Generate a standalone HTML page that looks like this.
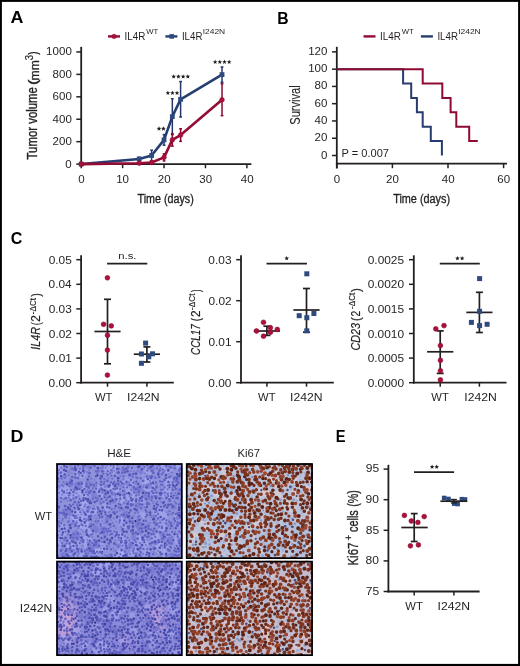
<!DOCTYPE html>
<html><head><meta charset="utf-8"><style>
html,body{margin:0;padding:0;background:#fff;}
svg{display:block;font-family:"Liberation Sans", sans-serif;filter:blur(0.35px);}
</style></head><body>
<svg width="520" height="666" viewBox="0 0 520 666" fill="#231f20">
<rect x="0" y="0" width="520" height="666" fill="#000"/>
<rect x="1.9" y="1.9" width="516.2" height="662.0" fill="#fff"/>
<text x="10.55" y="23.4" font-size="16.8" textLength="12.93" lengthAdjust="spacingAndGlyphs" font-weight="bold" fill="#000">A</text>
<text x="277.18" y="23.5" font-size="16.8" textLength="11.37" lengthAdjust="spacingAndGlyphs" font-weight="bold" fill="#000">B</text>
<text x="10.86" y="243.5" font-size="17.2" textLength="11.58" lengthAdjust="spacingAndGlyphs" font-weight="bold" fill="#000">C</text>
<text x="10.64" y="441.7" font-size="16.8" textLength="12.92" lengthAdjust="spacingAndGlyphs" font-weight="bold" fill="#000">D</text>
<text x="335.85" y="441.9" font-size="16.8" textLength="9.8" lengthAdjust="spacingAndGlyphs" font-weight="bold" fill="#000">E</text>
<line x1="108" y1="36.4" x2="120" y2="36.4" stroke="#940c34" stroke-width="2.4"/>
<circle cx="114.1" cy="36.4" r="2.2" fill="#ad0f3b" stroke="#8c0a30" stroke-width="0.6"/>
<text x="124.61" y="39.9" font-size="10.2" textLength="20.86" lengthAdjust="spacingAndGlyphs">IL4R</text>
<text x="146.16" y="34.2" font-size="7.0" textLength="11.99" lengthAdjust="spacingAndGlyphs">WT</text>
<line x1="165.4" y1="36.4" x2="177.4" y2="36.4" stroke="#273e72" stroke-width="2.4"/>
<rect x="169.4" y="34.1" width="4.6" height="4.6" fill="#2e4a7e"/>
<text x="181.93" y="39.9" font-size="10.2" textLength="20.54" lengthAdjust="spacingAndGlyphs">IL4R</text>
<text x="202.74" y="34.2" font-size="7.0" textLength="22.46" lengthAdjust="spacingAndGlyphs">I242N</text>
<line x1="363.5" y1="36.4" x2="375.5" y2="36.4" stroke="#940c34" stroke-width="2.4"/>
<text x="380.11" y="39.9" font-size="10.2" textLength="20.86" lengthAdjust="spacingAndGlyphs">IL4R</text>
<text x="401.66" y="34.2" font-size="7.0" textLength="11.99" lengthAdjust="spacingAndGlyphs">WT</text>
<line x1="420.9" y1="36.4" x2="432.9" y2="36.4" stroke="#273e72" stroke-width="2.4"/>
<text x="437.43" y="39.9" font-size="10.2" textLength="20.54" lengthAdjust="spacingAndGlyphs">IL4R</text>
<text x="458.24" y="34.2" font-size="7.0" textLength="22.46" lengthAdjust="spacingAndGlyphs">I242N</text>
<line x1="81.2" y1="46.8" x2="81.2" y2="165" stroke="#231f20" stroke-width="1.8"/>
<line x1="80.3" y1="164.1" x2="251.4" y2="164.1" stroke="#231f20" stroke-width="1.8"/>
<line x1="76.3" y1="164.1" x2="81.2" y2="164.1" stroke="#231f20" stroke-width="1.5"/>
<text x="65.39" y="167.6" font-size="10.5" textLength="6.42" lengthAdjust="spacingAndGlyphs">0</text>
<line x1="76.3" y1="141.67" x2="81.2" y2="141.67" stroke="#231f20" stroke-width="1.5"/>
<text x="52.57" y="145.17" font-size="10.5" textLength="19.27" lengthAdjust="spacingAndGlyphs">200</text>
<line x1="76.3" y1="119.24" x2="81.2" y2="119.24" stroke="#231f20" stroke-width="1.5"/>
<text x="52.57" y="122.74" font-size="10.5" textLength="19.27" lengthAdjust="spacingAndGlyphs">400</text>
<line x1="76.3" y1="96.81" x2="81.2" y2="96.81" stroke="#231f20" stroke-width="1.5"/>
<text x="52.57" y="100.31" font-size="10.5" textLength="19.27" lengthAdjust="spacingAndGlyphs">600</text>
<line x1="76.3" y1="74.38" x2="81.2" y2="74.38" stroke="#231f20" stroke-width="1.5"/>
<text x="52.57" y="77.88" font-size="10.5" textLength="19.27" lengthAdjust="spacingAndGlyphs">800</text>
<line x1="76.3" y1="51.95" x2="81.2" y2="51.95" stroke="#231f20" stroke-width="1.5"/>
<text x="46.11" y="55.45" font-size="10.5" textLength="25.7" lengthAdjust="spacingAndGlyphs">1000</text>
<line x1="81.2" y1="164.1" x2="81.2" y2="168.2" stroke="#231f20" stroke-width="1.5"/>
<text x="78.17" y="183" font-size="10.5" textLength="6.42" lengthAdjust="spacingAndGlyphs">0</text>
<line x1="122.62" y1="164.1" x2="122.62" y2="168.2" stroke="#231f20" stroke-width="1.5"/>
<text x="116.18" y="183" font-size="10.5" textLength="12.85" lengthAdjust="spacingAndGlyphs">10</text>
<line x1="164.04" y1="164.1" x2="164.04" y2="168.2" stroke="#231f20" stroke-width="1.5"/>
<text x="157.74" y="183" font-size="10.5" textLength="12.85" lengthAdjust="spacingAndGlyphs">20</text>
<line x1="205.46" y1="164.1" x2="205.46" y2="168.2" stroke="#231f20" stroke-width="1.5"/>
<text x="199.22" y="183" font-size="10.5" textLength="12.85" lengthAdjust="spacingAndGlyphs">30</text>
<line x1="246.88" y1="164.1" x2="246.88" y2="168.2" stroke="#231f20" stroke-width="1.5"/>
<text x="240.76" y="183" font-size="10.5" textLength="12.85" lengthAdjust="spacingAndGlyphs">40</text>
<text x="137.59" y="202.9" font-size="13.7" stroke="#231f20" stroke-width="0.35" textLength="56.17" lengthAdjust="spacingAndGlyphs">Time (days)</text>
<text transform="translate(37.4,159.2) rotate(-90)" x="-0.23" y="0" font-size="14" textLength="72.33" lengthAdjust="spacingAndGlyphs" stroke="#231f20" stroke-width="0.35">Tumor volume</text>
<text transform="translate(36.6,84) rotate(-90)" x="-1" y="0" font-size="12.5" textLength="5.53" lengthAdjust="spacingAndGlyphs" stroke="#231f20" stroke-width="0.3">(</text>
<text transform="translate(38.6,79.6) rotate(-90)" x="-0.79" y="0" font-size="12.5" textLength="20.12" lengthAdjust="spacingAndGlyphs" stroke="#231f20" stroke-width="0.3">mm</text>
<text transform="translate(32.6,59.9) rotate(-90)" x="-0.39" y="0" font-size="11.0" textLength="5.39" lengthAdjust="spacingAndGlyphs" stroke="#231f20" stroke-width="0.2">3</text>
<text transform="translate(36.6,54.6) rotate(-90)" x="-0.05" y="0" font-size="12.5" textLength="3.27" lengthAdjust="spacingAndGlyphs" stroke="#231f20" stroke-width="0.3">)</text>
<polyline points="81.2,164.1 139.19,158.94 151.61,155.46 164.04,139.88 172.32,116.66 180.61,99.28 222.03,74.6" fill="none" stroke="#273e72" stroke-width="2.6" stroke-linejoin="round"/>
<rect x="78.8" y="161.7" width="4.8" height="4.8" fill="#2e4a7e"/>
<line x1="139.19" y1="157.37" x2="139.19" y2="160.51" stroke="#233868" stroke-width="1.5"/>
<line x1="137.79" y1="157.37" x2="140.59" y2="157.37" stroke="#233868" stroke-width="1.5"/>
<line x1="137.79" y1="160.51" x2="140.59" y2="160.51" stroke="#233868" stroke-width="1.5"/>
<rect x="136.79" y="156.54" width="4.8" height="4.8" fill="#2e4a7e"/>
<line x1="151.61" y1="150.19" x2="151.61" y2="160.74" stroke="#233868" stroke-width="1.5"/>
<line x1="150.21" y1="150.19" x2="153.01" y2="150.19" stroke="#233868" stroke-width="1.5"/>
<line x1="150.21" y1="160.74" x2="153.01" y2="160.74" stroke="#233868" stroke-width="1.5"/>
<rect x="149.21" y="153.06" width="4.8" height="4.8" fill="#2e4a7e"/>
<line x1="164.04" y1="134.6" x2="164.04" y2="145.15" stroke="#233868" stroke-width="1.5"/>
<line x1="162.64" y1="134.6" x2="165.44" y2="134.6" stroke="#233868" stroke-width="1.5"/>
<line x1="162.64" y1="145.15" x2="165.44" y2="145.15" stroke="#233868" stroke-width="1.5"/>
<rect x="161.64" y="137.48" width="4.8" height="4.8" fill="#2e4a7e"/>
<line x1="172.32" y1="98.72" x2="172.32" y2="134.6" stroke="#233868" stroke-width="1.5"/>
<line x1="170.92" y1="98.72" x2="173.72" y2="98.72" stroke="#233868" stroke-width="1.5"/>
<line x1="170.92" y1="134.6" x2="173.72" y2="134.6" stroke="#233868" stroke-width="1.5"/>
<rect x="169.92" y="114.26" width="4.8" height="4.8" fill="#2e4a7e"/>
<line x1="180.61" y1="81.56" x2="180.61" y2="117" stroke="#233868" stroke-width="1.5"/>
<line x1="179.21" y1="81.56" x2="182.01" y2="81.56" stroke="#233868" stroke-width="1.5"/>
<line x1="179.21" y1="117" x2="182.01" y2="117" stroke="#233868" stroke-width="1.5"/>
<rect x="178.21" y="96.88" width="4.8" height="4.8" fill="#2e4a7e"/>
<line x1="222.03" y1="66.98" x2="222.03" y2="82.23" stroke="#233868" stroke-width="1.5"/>
<line x1="220.63" y1="66.98" x2="223.43" y2="66.98" stroke="#233868" stroke-width="1.5"/>
<line x1="220.63" y1="82.23" x2="223.43" y2="82.23" stroke="#233868" stroke-width="1.5"/>
<rect x="219.63" y="72.2" width="4.8" height="4.8" fill="#2e4a7e"/>
<polyline points="81.2,164.1 139.19,163.2 151.61,162.53 164.04,157.37 172.32,139.88 180.61,135.05 222.03,99.73" fill="none" stroke="#940c34" stroke-width="2.6" stroke-linejoin="round"/>
<circle cx="81.2" cy="164.1" r="2.3" fill="#ad0f3b" stroke="#8c0a30" stroke-width="0.6"/>
<line x1="139.19" y1="162.53" x2="139.19" y2="163.88" stroke="#880a30" stroke-width="1.5"/>
<line x1="137.79" y1="162.53" x2="140.59" y2="162.53" stroke="#880a30" stroke-width="1.5"/>
<line x1="137.79" y1="163.88" x2="140.59" y2="163.88" stroke="#880a30" stroke-width="1.5"/>
<circle cx="139.19" cy="163.2" r="2.3" fill="#ad0f3b" stroke="#8c0a30" stroke-width="0.6"/>
<line x1="151.61" y1="161.63" x2="151.61" y2="163.43" stroke="#880a30" stroke-width="1.5"/>
<line x1="150.21" y1="161.63" x2="153.01" y2="161.63" stroke="#880a30" stroke-width="1.5"/>
<line x1="150.21" y1="163.43" x2="153.01" y2="163.43" stroke="#880a30" stroke-width="1.5"/>
<circle cx="151.61" cy="162.53" r="2.3" fill="#ad0f3b" stroke="#8c0a30" stroke-width="0.6"/>
<line x1="164.04" y1="153.78" x2="164.04" y2="160.96" stroke="#880a30" stroke-width="1.5"/>
<line x1="162.64" y1="153.78" x2="165.44" y2="153.78" stroke="#880a30" stroke-width="1.5"/>
<line x1="162.64" y1="160.96" x2="165.44" y2="160.96" stroke="#880a30" stroke-width="1.5"/>
<circle cx="164.04" cy="157.37" r="2.3" fill="#ad0f3b" stroke="#8c0a30" stroke-width="0.6"/>
<line x1="172.32" y1="133.6" x2="172.32" y2="146.16" stroke="#880a30" stroke-width="1.5"/>
<line x1="170.92" y1="133.6" x2="173.72" y2="133.6" stroke="#880a30" stroke-width="1.5"/>
<line x1="170.92" y1="146.16" x2="173.72" y2="146.16" stroke="#880a30" stroke-width="1.5"/>
<circle cx="172.32" cy="139.88" r="2.3" fill="#ad0f3b" stroke="#8c0a30" stroke-width="0.6"/>
<line x1="180.61" y1="128.77" x2="180.61" y2="141.33" stroke="#880a30" stroke-width="1.5"/>
<line x1="179.21" y1="128.77" x2="182.01" y2="128.77" stroke="#880a30" stroke-width="1.5"/>
<line x1="179.21" y1="141.33" x2="182.01" y2="141.33" stroke="#880a30" stroke-width="1.5"/>
<circle cx="180.61" cy="135.05" r="2.3" fill="#ad0f3b" stroke="#8c0a30" stroke-width="0.6"/>
<line x1="222.03" y1="83.8" x2="222.03" y2="115.65" stroke="#880a30" stroke-width="1.5"/>
<line x1="220.63" y1="83.8" x2="223.43" y2="83.8" stroke="#880a30" stroke-width="1.5"/>
<line x1="220.63" y1="115.65" x2="223.43" y2="115.65" stroke="#880a30" stroke-width="1.5"/>
<circle cx="222.03" cy="99.73" r="2.3" fill="#ad0f3b" stroke="#8c0a30" stroke-width="0.6"/>
<polygon points="159,126.3 159.63,127.83 161.28,127.96 160.03,129.03 160.41,130.64 159,129.78 157.59,130.64 157.97,129.03 156.72,127.96 158.37,127.83" fill="#231f20"/>
<polygon points="163.4,126.3 164.03,127.83 165.68,127.96 164.43,129.03 164.81,130.64 163.4,129.78 161.99,130.64 162.37,129.03 161.12,127.96 162.77,127.83" fill="#231f20"/>
<polygon points="167.88,90.6 168.52,92.13 170.17,92.26 168.91,93.33 169.29,94.94 167.88,94.08 166.47,94.94 166.86,93.33 165.6,92.26 167.25,92.13" fill="#231f20"/>
<polygon points="172.45,90.6 173.08,92.13 174.73,92.26 173.48,93.33 173.86,94.94 172.45,94.08 171.04,94.94 171.42,93.33 170.17,92.26 171.82,92.13" fill="#231f20"/>
<polygon points="177.02,90.6 177.65,92.13 179.3,92.26 178.04,93.33 178.43,94.94 177.02,94.08 175.61,94.94 175.99,93.33 174.73,92.26 176.38,92.13" fill="#231f20"/>
<polygon points="173.66,74.2 174.3,75.73 175.95,75.86 174.69,76.93 175.07,78.54 173.66,77.68 172.25,78.54 172.64,76.93 171.38,75.86 173.03,75.73" fill="#231f20"/>
<polygon points="178.39,74.2 179.02,75.73 180.67,75.86 179.41,76.93 179.8,78.54 178.39,77.68 176.98,78.54 177.36,76.93 176.1,75.86 177.75,75.73" fill="#231f20"/>
<polygon points="183.11,74.2 183.75,75.73 185.4,75.86 184.14,76.93 184.52,78.54 183.11,77.68 181.7,78.54 182.09,76.93 180.83,75.86 182.48,75.73" fill="#231f20"/>
<polygon points="187.84,74.2 188.47,75.73 190.12,75.86 188.86,76.93 189.25,78.54 187.84,77.68 186.43,78.54 186.81,76.93 185.55,75.86 187.2,75.73" fill="#231f20"/>
<polygon points="215.14,59.6 215.77,61.13 217.42,61.26 216.16,62.33 216.55,63.94 215.14,63.08 213.73,63.94 214.11,62.33 212.85,61.26 214.5,61.13" fill="#231f20"/>
<polygon points="219.81,59.6 220.45,61.13 222.1,61.26 220.84,62.33 221.22,63.94 219.81,63.08 218.4,63.94 218.79,62.33 217.53,61.26 219.18,61.13" fill="#231f20"/>
<polygon points="224.49,59.6 225.12,61.13 226.77,61.26 225.51,62.33 225.9,63.94 224.49,63.08 223.08,63.94 223.46,62.33 222.2,61.26 223.85,61.13" fill="#231f20"/>
<polygon points="229.16,59.6 229.8,61.13 231.45,61.26 230.19,62.33 230.57,63.94 229.16,63.08 227.75,63.94 228.14,62.33 226.88,61.26 228.53,61.13" fill="#231f20"/>
<line x1="336.8" y1="46.8" x2="336.8" y2="168.4" stroke="#231f20" stroke-width="1.8"/>
<line x1="335.9" y1="163.6" x2="507" y2="163.6" stroke="#231f20" stroke-width="1.8"/>
<line x1="332" y1="155.5" x2="336.8" y2="155.5" stroke="#231f20" stroke-width="1.5"/>
<text x="320.99" y="158.5" font-size="10.5" textLength="6.42" lengthAdjust="spacingAndGlyphs">0</text>
<line x1="332" y1="138.23" x2="336.8" y2="138.23" stroke="#231f20" stroke-width="1.5"/>
<text x="314.58" y="141.23" font-size="10.5" textLength="12.85" lengthAdjust="spacingAndGlyphs">20</text>
<line x1="332" y1="120.96" x2="336.8" y2="120.96" stroke="#231f20" stroke-width="1.5"/>
<text x="314.58" y="123.96" font-size="10.5" textLength="12.85" lengthAdjust="spacingAndGlyphs">40</text>
<line x1="332" y1="103.69" x2="336.8" y2="103.69" stroke="#231f20" stroke-width="1.5"/>
<text x="314.58" y="106.69" font-size="10.5" textLength="12.85" lengthAdjust="spacingAndGlyphs">60</text>
<line x1="332" y1="86.42" x2="336.8" y2="86.42" stroke="#231f20" stroke-width="1.5"/>
<text x="314.58" y="89.42" font-size="10.5" textLength="12.85" lengthAdjust="spacingAndGlyphs">80</text>
<line x1="332" y1="69.15" x2="336.8" y2="69.15" stroke="#231f20" stroke-width="1.5"/>
<text x="308.17" y="72.15" font-size="10.5" textLength="19.27" lengthAdjust="spacingAndGlyphs">100</text>
<line x1="332" y1="51.88" x2="336.8" y2="51.88" stroke="#231f20" stroke-width="1.5"/>
<text x="308.17" y="54.88" font-size="10.5" textLength="19.27" lengthAdjust="spacingAndGlyphs">120</text>
<line x1="336.8" y1="163.6" x2="336.8" y2="168.2" stroke="#231f20" stroke-width="1.5"/>
<text x="333.77" y="183.4" font-size="10.5" textLength="6.42" lengthAdjust="spacingAndGlyphs">0</text>
<line x1="392.4" y1="163.6" x2="392.4" y2="168.2" stroke="#231f20" stroke-width="1.5"/>
<text x="386.1" y="183.4" font-size="10.5" textLength="12.85" lengthAdjust="spacingAndGlyphs">20</text>
<line x1="448" y1="163.6" x2="448" y2="168.2" stroke="#231f20" stroke-width="1.5"/>
<text x="441.88" y="183.4" font-size="10.5" textLength="12.85" lengthAdjust="spacingAndGlyphs">40</text>
<line x1="503.6" y1="163.6" x2="503.6" y2="168.2" stroke="#231f20" stroke-width="1.5"/>
<text x="497.3" y="183.4" font-size="10.5" textLength="12.85" lengthAdjust="spacingAndGlyphs">60</text>
<text x="393.18" y="203.2" font-size="13.7" stroke="#231f20" stroke-width="0.35" textLength="56.88" lengthAdjust="spacingAndGlyphs">Time (days)</text>
<text transform="translate(299.6,105.0) rotate(-90)" font-size="14" stroke="#231f20" stroke-width="0.12" text-anchor="middle" textLength="39.5" lengthAdjust="spacingAndGlyphs">Survival</text>
<text x="341.52" y="156.9" font-size="10.3" textLength="47.45" lengthAdjust="spacingAndGlyphs">P = 0.007</text>
<path d="M336.8,69.15 H403.1 V83.54 H411.2 V97.93 H416.9 V112.33 H422.7 V126.72 H430.8 V141.11 H441.9 V155.5" fill="none" stroke="#263c6e" stroke-width="2.0"/>
<path d="M336.8,69.15 H422.7 V83.54 H442.3 V97.93 H450.6 V112.33 H456.3 V126.72 H469.2 V141.11 H477.8" fill="none" stroke="#8e0a30" stroke-width="2.0"/>
<line x1="81.1" y1="255.3" x2="81.1" y2="383.6" stroke="#231f20" stroke-width="1.8"/>
<line x1="80.2" y1="382.7" x2="173.8" y2="382.7" stroke="#231f20" stroke-width="1.8"/>
<line x1="76.3" y1="382.7" x2="81.1" y2="382.7" stroke="#231f20" stroke-width="1.5"/>
<text x="48.62" y="386.7" font-size="10.6" textLength="23.11" lengthAdjust="spacingAndGlyphs">0.00</text>
<line x1="76.3" y1="358.1" x2="81.1" y2="358.1" stroke="#231f20" stroke-width="1.5"/>
<text x="48.74" y="362.1" font-size="10.6" textLength="23.11" lengthAdjust="spacingAndGlyphs">0.01</text>
<line x1="76.3" y1="333.5" x2="81.1" y2="333.5" stroke="#231f20" stroke-width="1.5"/>
<text x="48.8" y="337.5" font-size="10.6" textLength="23.11" lengthAdjust="spacingAndGlyphs">0.02</text>
<line x1="76.3" y1="308.9" x2="81.1" y2="308.9" stroke="#231f20" stroke-width="1.5"/>
<text x="48.68" y="312.9" font-size="10.6" textLength="23.11" lengthAdjust="spacingAndGlyphs">0.03</text>
<line x1="76.3" y1="284.3" x2="81.1" y2="284.3" stroke="#231f20" stroke-width="1.5"/>
<text x="48.57" y="288.3" font-size="10.6" textLength="23.11" lengthAdjust="spacingAndGlyphs">0.04</text>
<line x1="76.3" y1="259.7" x2="81.1" y2="259.7" stroke="#231f20" stroke-width="1.5"/>
<text x="48.68" y="263.7" font-size="10.6" textLength="23.11" lengthAdjust="spacingAndGlyphs">0.05</text>
<line x1="107.5" y1="382.7" x2="107.5" y2="386.7" stroke="#231f20" stroke-width="1.5"/>
<line x1="146.9" y1="382.7" x2="146.9" y2="386.7" stroke="#231f20" stroke-width="1.5"/>
<text x="94.94" y="400.8" font-size="10.5" textLength="17.48" lengthAdjust="spacingAndGlyphs">WT</text>
<text x="127.1" y="400.8" font-size="10.5" textLength="32.51" lengthAdjust="spacingAndGlyphs">I242N</text>
<line x1="107.1" y1="263.6" x2="147.3" y2="263.6" stroke="#231f20" stroke-width="1.7"/>
<text x="118.27" y="258.6" font-size="9.6" textLength="18.17" lengthAdjust="spacingAndGlyphs">n.s.</text>
<text transform="translate(40.2,349.3) rotate(-90)" x="-0.43" y="0" font-size="12.8" textLength="22.78" lengthAdjust="spacingAndGlyphs" stroke="#231f20" stroke-width="0.2" font-style="italic">IL4R</text>
<text transform="translate(40.2,324.7) rotate(-90)" x="-0.54" y="0" font-size="12.8" textLength="3.02" lengthAdjust="spacingAndGlyphs" stroke="#231f20" stroke-width="0.2">(</text>
<text transform="translate(40.2,321.1) rotate(-90)" x="-0.59" y="0" font-size="12.8" textLength="6.6" lengthAdjust="spacingAndGlyphs" stroke="#231f20" stroke-width="0.2">2</text>
<text transform="translate(35.9,313.8) rotate(-90)" x="-0.36" y="0" font-size="8.6" textLength="16.11" lengthAdjust="spacingAndGlyphs" stroke="#231f20" stroke-width="0.15">-ΔCt</text>
<text transform="translate(40.2,296.8) rotate(-90)" x="-0.05" y="0" font-size="12.8" textLength="3.52" lengthAdjust="spacingAndGlyphs" stroke="#231f20" stroke-width="0.2">)</text>
<line x1="107.5" y1="299.3" x2="107.5" y2="363.8" stroke="#231f20" stroke-width="1.7"/>
<line x1="104" y1="299.3" x2="111" y2="299.3" stroke="#231f20" stroke-width="1.7"/>
<line x1="104" y1="363.8" x2="111" y2="363.8" stroke="#231f20" stroke-width="1.7"/>
<line x1="94.4" y1="331.5" x2="120.6" y2="331.5" stroke="#231f20" stroke-width="1.7"/>
<circle cx="107.4" cy="277.8" r="2.4" fill="#ad0f3b" stroke="#8c0a30" stroke-width="0.6"/>
<circle cx="103.6" cy="324.3" r="2.4" fill="#ad0f3b" stroke="#8c0a30" stroke-width="0.6"/>
<circle cx="111.3" cy="325.9" r="2.4" fill="#ad0f3b" stroke="#8c0a30" stroke-width="0.6"/>
<circle cx="107.5" cy="335.3" r="2.4" fill="#ad0f3b" stroke="#8c0a30" stroke-width="0.6"/>
<circle cx="107.4" cy="350.1" r="2.4" fill="#ad0f3b" stroke="#8c0a30" stroke-width="0.6"/>
<circle cx="107.4" cy="375.1" r="2.4" fill="#ad0f3b" stroke="#8c0a30" stroke-width="0.6"/>
<line x1="146.9" y1="346.9" x2="146.9" y2="362" stroke="#231f20" stroke-width="1.7"/>
<line x1="143.4" y1="346.9" x2="150.4" y2="346.9" stroke="#231f20" stroke-width="1.7"/>
<line x1="143.4" y1="362" x2="150.4" y2="362" stroke="#231f20" stroke-width="1.7"/>
<line x1="133.8" y1="354.2" x2="160" y2="354.2" stroke="#231f20" stroke-width="1.7"/>
<rect x="143.1" y="340.6" width="5" height="5" fill="#2e4a7e"/>
<rect x="138.9" y="351.5" width="5" height="5" fill="#2e4a7e"/>
<rect x="150" y="351.3" width="5" height="5" fill="#2e4a7e"/>
<rect x="146.3" y="354.3" width="5" height="5" fill="#2e4a7e"/>
<rect x="138.9" y="360.8" width="5" height="5" fill="#2e4a7e"/>
<line x1="241" y1="255.3" x2="241" y2="383.6" stroke="#231f20" stroke-width="1.8"/>
<line x1="240.1" y1="382.7" x2="333.8" y2="382.7" stroke="#231f20" stroke-width="1.8"/>
<line x1="236.2" y1="382.7" x2="241" y2="382.7" stroke="#231f20" stroke-width="1.5"/>
<text x="208.32" y="386.7" font-size="10.6" textLength="23.11" lengthAdjust="spacingAndGlyphs">0.00</text>
<line x1="236.2" y1="341.7" x2="241" y2="341.7" stroke="#231f20" stroke-width="1.5"/>
<text x="208.44" y="345.7" font-size="10.6" textLength="23.11" lengthAdjust="spacingAndGlyphs">0.01</text>
<line x1="236.2" y1="300.7" x2="241" y2="300.7" stroke="#231f20" stroke-width="1.5"/>
<text x="208.5" y="304.7" font-size="10.6" textLength="23.11" lengthAdjust="spacingAndGlyphs">0.02</text>
<line x1="236.2" y1="259.7" x2="241" y2="259.7" stroke="#231f20" stroke-width="1.5"/>
<text x="208.38" y="263.7" font-size="10.6" textLength="23.11" lengthAdjust="spacingAndGlyphs">0.03</text>
<line x1="266.9" y1="382.7" x2="266.9" y2="386.7" stroke="#231f20" stroke-width="1.5"/>
<line x1="306.5" y1="382.7" x2="306.5" y2="386.7" stroke="#231f20" stroke-width="1.5"/>
<text x="258.04" y="400.8" font-size="10.5" textLength="17.48" lengthAdjust="spacingAndGlyphs">WT</text>
<text x="290" y="400.8" font-size="10.5" textLength="32.51" lengthAdjust="spacingAndGlyphs">I242N</text>
<line x1="266.5" y1="263.6" x2="306.9" y2="263.6" stroke="#231f20" stroke-width="1.7"/>
<polygon points="286.7,255.9 287.33,257.43 288.98,257.56 287.73,258.63 288.11,260.24 286.7,259.38 285.29,260.24 285.67,258.63 284.42,257.56 286.07,257.43" fill="#231f20"/>
<text transform="translate(200.2,354.4) rotate(-90)" x="-0.54" y="0" font-size="12.8" textLength="30.78" lengthAdjust="spacingAndGlyphs" stroke="#231f20" stroke-width="0.2" font-style="italic">CCL17</text>
<text transform="translate(200.2,320.6) rotate(-90)" x="-0.59" y="0" font-size="12.8" textLength="3.27" lengthAdjust="spacingAndGlyphs" stroke="#231f20" stroke-width="0.2">(</text>
<text transform="translate(200.2,316.3) rotate(-90)" x="-0.59" y="0" font-size="12.8" textLength="6.6" lengthAdjust="spacingAndGlyphs" stroke="#231f20" stroke-width="0.2">2</text>
<text transform="translate(195.4,309.6) rotate(-90)" x="-0.37" y="0" font-size="8.6" textLength="16.42" lengthAdjust="spacingAndGlyphs" stroke="#231f20" stroke-width="0.15">-ΔCt</text>
<text transform="translate(200.2,291.9) rotate(-90)" x="-0.04" y="0" font-size="12.8" textLength="2.39" lengthAdjust="spacingAndGlyphs" stroke="#231f20" stroke-width="0.2">)</text>
<line x1="266.9" y1="326.2" x2="266.9" y2="335.4" stroke="#231f20" stroke-width="1.7"/>
<line x1="263.4" y1="326.2" x2="270.4" y2="326.2" stroke="#231f20" stroke-width="1.7"/>
<line x1="263.4" y1="335.4" x2="270.4" y2="335.4" stroke="#231f20" stroke-width="1.7"/>
<line x1="253.8" y1="331" x2="280" y2="331" stroke="#231f20" stroke-width="1.7"/>
<circle cx="263.5" cy="322.3" r="2.4" fill="#ad0f3b" stroke="#8c0a30" stroke-width="0.6"/>
<circle cx="256.5" cy="331" r="2.4" fill="#ad0f3b" stroke="#8c0a30" stroke-width="0.6"/>
<circle cx="263.5" cy="336.2" r="2.4" fill="#ad0f3b" stroke="#8c0a30" stroke-width="0.6"/>
<circle cx="270.4" cy="327.7" r="2.4" fill="#ad0f3b" stroke="#8c0a30" stroke-width="0.6"/>
<circle cx="277.3" cy="329.5" r="2.4" fill="#ad0f3b" stroke="#8c0a30" stroke-width="0.6"/>
<circle cx="270.4" cy="332.3" r="2.4" fill="#ad0f3b" stroke="#8c0a30" stroke-width="0.6"/>
<line x1="306.5" y1="288.5" x2="306.5" y2="332.2" stroke="#231f20" stroke-width="1.7"/>
<line x1="303" y1="288.5" x2="310" y2="288.5" stroke="#231f20" stroke-width="1.7"/>
<line x1="303" y1="332.2" x2="310" y2="332.2" stroke="#231f20" stroke-width="1.7"/>
<line x1="293.4" y1="310" x2="319.6" y2="310" stroke="#231f20" stroke-width="1.7"/>
<rect x="304.3" y="271.3" width="5" height="5" fill="#2e4a7e"/>
<rect x="296.7" y="313.2" width="5" height="5" fill="#2e4a7e"/>
<rect x="311.4" y="311" width="5" height="5" fill="#2e4a7e"/>
<rect x="304.3" y="315.2" width="5" height="5" fill="#2e4a7e"/>
<rect x="304.3" y="328.3" width="5" height="5" fill="#2e4a7e"/>
<line x1="413.8" y1="255.3" x2="413.8" y2="383.6" stroke="#231f20" stroke-width="1.8"/>
<line x1="412.9" y1="382.7" x2="506.5" y2="382.7" stroke="#231f20" stroke-width="1.8"/>
<line x1="409" y1="382.7" x2="413.8" y2="382.7" stroke="#231f20" stroke-width="1.5"/>
<text x="367.69" y="386.7" font-size="10.6" textLength="36.31" lengthAdjust="spacingAndGlyphs">0.0000</text>
<line x1="409" y1="358.1" x2="413.8" y2="358.1" stroke="#231f20" stroke-width="1.5"/>
<text x="367.75" y="362.1" font-size="10.6" textLength="36.31" lengthAdjust="spacingAndGlyphs">0.0005</text>
<line x1="409" y1="333.5" x2="413.8" y2="333.5" stroke="#231f20" stroke-width="1.5"/>
<text x="367.69" y="337.5" font-size="10.6" textLength="36.31" lengthAdjust="spacingAndGlyphs">0.0010</text>
<line x1="409" y1="308.9" x2="413.8" y2="308.9" stroke="#231f20" stroke-width="1.5"/>
<text x="367.75" y="312.9" font-size="10.6" textLength="36.31" lengthAdjust="spacingAndGlyphs">0.0015</text>
<line x1="409" y1="284.3" x2="413.8" y2="284.3" stroke="#231f20" stroke-width="1.5"/>
<text x="367.69" y="288.3" font-size="10.6" textLength="36.31" lengthAdjust="spacingAndGlyphs">0.0020</text>
<line x1="409" y1="259.7" x2="413.8" y2="259.7" stroke="#231f20" stroke-width="1.5"/>
<text x="367.75" y="263.7" font-size="10.6" textLength="36.31" lengthAdjust="spacingAndGlyphs">0.0025</text>
<line x1="440.2" y1="382.7" x2="440.2" y2="386.7" stroke="#231f20" stroke-width="1.5"/>
<line x1="479.4" y1="382.7" x2="479.4" y2="386.7" stroke="#231f20" stroke-width="1.5"/>
<text x="431.34" y="400.8" font-size="10.5" textLength="17.48" lengthAdjust="spacingAndGlyphs">WT</text>
<text x="464.3" y="400.8" font-size="10.5" textLength="32.51" lengthAdjust="spacingAndGlyphs">I242N</text>
<line x1="439.8" y1="263.6" x2="479.8" y2="263.6" stroke="#231f20" stroke-width="1.7"/>
<polygon points="457.45,255.9 458.08,257.43 459.73,257.56 458.48,258.63 458.86,260.24 457.45,259.38 456.04,260.24 456.42,258.63 455.17,257.56 456.82,257.43" fill="#231f20"/>
<polygon points="462.15,255.9 462.78,257.43 464.43,257.56 463.18,258.63 463.56,260.24 462.15,259.38 460.74,260.24 461.12,258.63 459.87,257.56 461.52,257.43" fill="#231f20"/>
<text transform="translate(360,350) rotate(-90)" x="-0.6" y="0" font-size="12.8" textLength="27.67" lengthAdjust="spacingAndGlyphs" stroke="#231f20" stroke-width="0.2" font-style="italic">CD23</text>
<text transform="translate(360,320.4) rotate(-90)" x="-0.66" y="0" font-size="12.8" textLength="3.64" lengthAdjust="spacingAndGlyphs" stroke="#231f20" stroke-width="0.2">(</text>
<text transform="translate(360,316.1) rotate(-90)" x="-0.52" y="0" font-size="12.8" textLength="5.75" lengthAdjust="spacingAndGlyphs" stroke="#231f20" stroke-width="0.2">2</text>
<text transform="translate(355,308.6) rotate(-90)" x="-0.36" y="0" font-size="8.6" textLength="16.21" lengthAdjust="spacingAndGlyphs" stroke="#231f20" stroke-width="0.15">-ΔCt</text>
<text transform="translate(360,291.9) rotate(-90)" x="-0.06" y="0" font-size="12.8" textLength="4.02" lengthAdjust="spacingAndGlyphs" stroke="#231f20" stroke-width="0.2">)</text>
<line x1="440.2" y1="330.9" x2="440.2" y2="373.4" stroke="#231f20" stroke-width="1.7"/>
<line x1="436.7" y1="330.9" x2="443.7" y2="330.9" stroke="#231f20" stroke-width="1.7"/>
<line x1="436.7" y1="373.4" x2="443.7" y2="373.4" stroke="#231f20" stroke-width="1.7"/>
<line x1="427.1" y1="351.8" x2="453.3" y2="351.8" stroke="#231f20" stroke-width="1.7"/>
<circle cx="435.8" cy="328.9" r="2.4" fill="#ad0f3b" stroke="#8c0a30" stroke-width="0.6"/>
<circle cx="444" cy="325.6" r="2.4" fill="#ad0f3b" stroke="#8c0a30" stroke-width="0.6"/>
<circle cx="440.4" cy="345.6" r="2.4" fill="#ad0f3b" stroke="#8c0a30" stroke-width="0.6"/>
<circle cx="440.4" cy="360.3" r="2.4" fill="#ad0f3b" stroke="#8c0a30" stroke-width="0.6"/>
<circle cx="440.4" cy="370.8" r="2.4" fill="#ad0f3b" stroke="#8c0a30" stroke-width="0.6"/>
<circle cx="440.4" cy="379.9" r="2.4" fill="#ad0f3b" stroke="#8c0a30" stroke-width="0.6"/>
<line x1="479.4" y1="292.3" x2="479.4" y2="332.5" stroke="#231f20" stroke-width="1.7"/>
<line x1="475.9" y1="292.3" x2="482.9" y2="292.3" stroke="#231f20" stroke-width="1.7"/>
<line x1="475.9" y1="332.5" x2="482.9" y2="332.5" stroke="#231f20" stroke-width="1.7"/>
<line x1="466.3" y1="312.4" x2="492.5" y2="312.4" stroke="#231f20" stroke-width="1.7"/>
<rect x="477.1" y="276.1" width="5" height="5" fill="#2e4a7e"/>
<rect x="468.9" y="319.9" width="5" height="5" fill="#2e4a7e"/>
<rect x="484.6" y="321.8" width="5" height="5" fill="#2e4a7e"/>
<rect x="477.1" y="323.1" width="5" height="5" fill="#2e4a7e"/>
<rect x="477.1" y="308.8" width="5" height="5" fill="#2e4a7e"/>
<line x1="388.4" y1="464.8" x2="388.4" y2="592.4" stroke="#231f20" stroke-width="1.8"/>
<line x1="387.5" y1="591.5" x2="479.6" y2="591.5" stroke="#231f20" stroke-width="1.8"/>
<line x1="383.6" y1="591.5" x2="388.4" y2="591.5" stroke="#231f20" stroke-width="1.5"/>
<text x="365.68" y="594.8" font-size="10.5" textLength="13.43" lengthAdjust="spacingAndGlyphs">75</text>
<line x1="383.6" y1="560.9" x2="388.4" y2="560.9" stroke="#231f20" stroke-width="1.5"/>
<text x="365.62" y="564.2" font-size="10.5" textLength="13.43" lengthAdjust="spacingAndGlyphs">80</text>
<line x1="383.6" y1="530.3" x2="388.4" y2="530.3" stroke="#231f20" stroke-width="1.5"/>
<text x="365.68" y="533.6" font-size="10.5" textLength="13.43" lengthAdjust="spacingAndGlyphs">85</text>
<line x1="383.6" y1="499.7" x2="388.4" y2="499.7" stroke="#231f20" stroke-width="1.5"/>
<text x="365.62" y="503" font-size="10.5" textLength="13.43" lengthAdjust="spacingAndGlyphs">90</text>
<line x1="383.6" y1="469.1" x2="388.4" y2="469.1" stroke="#231f20" stroke-width="1.5"/>
<text x="365.68" y="472.4" font-size="10.5" textLength="13.43" lengthAdjust="spacingAndGlyphs">95</text>
<line x1="414.2" y1="591.5" x2="414.2" y2="595.5" stroke="#231f20" stroke-width="1.5"/>
<line x1="453.9" y1="591.5" x2="453.9" y2="595.5" stroke="#231f20" stroke-width="1.5"/>
<text x="405.34" y="610.1" font-size="10.5" textLength="17.48" lengthAdjust="spacingAndGlyphs">WT</text>
<text x="437.6" y="610.1" font-size="10.5" textLength="32.51" lengthAdjust="spacingAndGlyphs">I242N</text>
<line x1="414" y1="472.2" x2="454.1" y2="472.2" stroke="#231f20" stroke-width="1.7"/>
<polygon points="432.1,464.5 432.73,466.03 434.38,466.16 433.13,467.23 433.51,468.84 432.1,467.98 430.69,468.84 431.07,467.23 429.82,466.16 431.47,466.03" fill="#231f20"/>
<polygon points="436.7,464.5 437.33,466.03 438.98,466.16 437.73,467.23 438.11,468.84 436.7,467.98 435.29,468.84 435.67,467.23 434.42,466.16 436.07,466.03" fill="#231f20"/>
<text transform="translate(357.5,564.6) rotate(-90)" x="-0.92" y="0" font-size="13.8" textLength="22.91" lengthAdjust="spacingAndGlyphs" stroke="#231f20" stroke-width="0.3">Ki67</text>
<text transform="translate(352.2,540.2) rotate(-90)" x="-0.52" y="0" font-size="10.0" textLength="6.02" lengthAdjust="spacingAndGlyphs" stroke="#231f20" stroke-width="0.2">+</text>
<text transform="translate(357.5,531.6) rotate(-90)" x="-0.44" y="0" font-size="13.8" textLength="21.82" lengthAdjust="spacingAndGlyphs" stroke="#231f20" stroke-width="0.3">cells</text>
<text transform="translate(357.5,506.2) rotate(-90)" x="-0.64" y="0" font-size="13.8" textLength="16.53" lengthAdjust="spacingAndGlyphs" stroke="#231f20" stroke-width="0.3">(%)</text>
<line x1="414.2" y1="513.6" x2="414.2" y2="541.5" stroke="#231f20" stroke-width="1.7"/>
<line x1="410.8" y1="513.6" x2="417.6" y2="513.6" stroke="#231f20" stroke-width="1.7"/>
<line x1="410.8" y1="541.5" x2="417.6" y2="541.5" stroke="#231f20" stroke-width="1.7"/>
<line x1="401.3" y1="527.5" x2="427.7" y2="527.5" stroke="#231f20" stroke-width="1.7"/>
<circle cx="404.4" cy="515.4" r="2.4" fill="#ad0f3b" stroke="#8c0a30" stroke-width="0.6"/>
<circle cx="424.2" cy="516.6" r="2.4" fill="#ad0f3b" stroke="#8c0a30" stroke-width="0.6"/>
<circle cx="411.3" cy="521" r="2.4" fill="#ad0f3b" stroke="#8c0a30" stroke-width="0.6"/>
<circle cx="417.9" cy="522.4" r="2.4" fill="#ad0f3b" stroke="#8c0a30" stroke-width="0.6"/>
<circle cx="410.4" cy="545.8" r="2.4" fill="#ad0f3b" stroke="#8c0a30" stroke-width="0.6"/>
<circle cx="418.4" cy="544.9" r="2.4" fill="#ad0f3b" stroke="#8c0a30" stroke-width="0.6"/>
<rect x="441.9" y="495.7" width="4.6" height="4.6" fill="#2e4a7e"/>
<rect x="446.2" y="496.7" width="4.6" height="4.6" fill="#2e4a7e"/>
<rect x="459.6" y="496.9" width="4.6" height="4.6" fill="#2e4a7e"/>
<rect x="462.7" y="497.2" width="4.6" height="4.6" fill="#2e4a7e"/>
<rect x="451.9" y="501.3" width="4.6" height="4.6" fill="#2e4a7e"/>
<rect x="455.3" y="501.7" width="4.6" height="4.6" fill="#2e4a7e"/>
<line x1="440.4" y1="501.2" x2="467.2" y2="501.2" stroke="#231f20" stroke-width="1.7"/>
<line x1="453.9" y1="499.5" x2="453.9" y2="503" stroke="#231f20" stroke-width="1.4"/>
<line x1="450.9" y1="499.5" x2="456.9" y2="499.5" stroke="#231f20" stroke-width="1.3"/>
<line x1="450.9" y1="503" x2="456.9" y2="503" stroke="#231f20" stroke-width="1.3"/>
<text x="107.17" y="456.8" font-size="10.4" textLength="24.02" lengthAdjust="spacingAndGlyphs">H&amp;E</text>
<text x="237.4" y="456.8" font-size="10.4" textLength="22.58" lengthAdjust="spacingAndGlyphs">Ki67</text>
<text x="34.74" y="520.3" font-size="10.4" textLength="17.27" lengthAdjust="spacingAndGlyphs">WT</text>
<text x="19.8" y="612.1" font-size="10.4" textLength="32.51" lengthAdjust="spacingAndGlyphs">I242N</text>
<filter id="soft" x="0" y="0" width="1" height="1"><feGaussianBlur stdDeviation="0.45"/></filter>
<filter id="big" x="-50%" y="-50%" width="200%" height="200%"><feGaussianBlur stdDeviation="4"/></filter>
<clipPath id="che1"><rect x="56.2" y="463.2" width="126.4" height="95.8"/></clipPath>
<g clip-path="url(#che1)"><g filter="url(#soft)">
<rect x="54.2" y="461.2" width="130.4" height="99.8" fill="#9092dc"/>
<path stroke="#acaef2" stroke-opacity="0.5" stroke-width="7" stroke-linecap="round" d="M138.6 538.8h0M170.1 466.1h0M83.6 503.6h0M85.7 485.3h0M114.3 491h0M120.1 519.6h0M105.9 510.1h0M131.2 500.9h0M124.4 545.6h0M114.1 465.9h0M66.7 464.8h0M151.7 487.1h0M135.2 496.2h0M76.4 513.7h0M96.9 508.6h0M105.1 503.5h0M58.8 464.9h0M141.9 515.4h0M108.8 487.4h0M177.8 517.8h0M166.4 549.4h0M155.1 495.7h0M117.4 557.6h0M147.9 471.3h0M73.3 516h0"/>
<path stroke="#acaef2" stroke-opacity="0.5" stroke-width="9" stroke-linecap="round" d="M88.4 510.7h0M59.8 543.3h0M152.6 463.4h0M124.6 553.2h0M84.2 505.1h0M146.1 552.9h0M161.1 527.4h0M86.9 539.6h0M141.5 499.1h0M117.5 497.4h0M90.7 531.4h0M84.4 525.3h0M120.5 499.4h0M82.2 527.8h0M93.6 511.1h0M132.1 543.8h0"/>
<path stroke="#acaef2" stroke-opacity="0.5" stroke-width="11" stroke-linecap="round" d="M162.1 516.5h0M71.5 495.1h0M78.1 515.8h0M120.5 537.8h0M121.1 554.4h0M114.2 489h0M159.9 548.1h0M158.5 512.9h0M128.2 482.3h0M124.3 522.9h0M88.5 543.8h0M69.9 549.4h0M147.1 478.5h0M179.5 539.6h0M129 494h0M165.9 556.5h0M80.7 473.2h0M99.7 547.7h0"/>
<path stroke="#acaef2" stroke-opacity="0.5" stroke-width="12.9" stroke-linecap="round" d="M73.2 544.4h0M147.4 485.1h0M79.7 558.3h0M130.5 547.7h0M61.7 530.6h0M119.7 557.3h0M177.2 463.7h0M110.1 468.6h0M78.6 519.2h0M157.1 539.6h0M82.6 521.2h0M63.6 491.8h0M166.9 492.6h0M95.4 553.2h0M167.3 466.8h0M81.6 494.6h0M141.5 543.5h0M171.3 483.6h0M99.2 491.1h0M132.5 554.6h0M61.1 470.2h0"/>
<path stroke="#7072d0" stroke-opacity="0.6" stroke-width="4.5" stroke-linecap="round" d="M128.3 484.6h0M155.7 542.5h0M140.9 472h0M168.1 467h0M181.1 503.5h0M88.2 508.9h0M138.6 467h0M113.1 493.2h0M95 486.8h0M129.4 520.3h0M58.8 486.6h0M125.9 470h0M118.5 545.8h0M119.6 539.4h0M93.3 548.8h0M78.7 504.6h0M108.9 517.9h0M101.1 476.4h0M106.9 521.9h0M91 525.1h0M177.6 517.9h0M77 533.1h0"/>
<path stroke="#7072d0" stroke-opacity="0.6" stroke-width="5.5" stroke-linecap="round" d="M155.8 542.6h0M134 538.1h0M173.1 507.1h0M69.2 550.5h0M178.8 550.3h0M91.7 557.4h0M105.6 492.6h0M180.7 541.9h0M171.3 466.2h0M146.6 527.2h0M113.5 501.1h0M89 542.6h0M116.7 484.8h0M139.6 530.3h0M173 556.2h0"/>
<path stroke="#7072d0" stroke-opacity="0.6" stroke-width="6.4" stroke-linecap="round" d="M89.9 548.5h0M180.4 491.5h0M70.3 483.8h0M180.1 515.2h0M139.9 488h0M94.5 495.2h0M162.5 534.7h0M88.8 465.5h0M57.1 513.8h0M138.2 505.2h0M148.7 486h0M87.9 484h0M152 468.2h0M146.8 496.5h0M180.2 540.6h0"/>
<path stroke="#7072d0" stroke-opacity="0.6" stroke-width="7.4" stroke-linecap="round" d="M77.4 486.3h0M171.7 556.1h0M138.6 524.8h0M96.2 544.4h0M136.5 491.1h0M176.2 479.8h0M69.7 512.5h0M170.4 540.2h0M64.3 555.5h0M125.6 515.1h0M127 550.1h0M65.2 512.2h0M76.4 536.6h0M95.6 529.5h0M103.2 530.4h0M131.4 545.2h0M90 550.7h0M73.8 537.5h0"/>
<path stroke="#2a2a7e" stroke-opacity="1" stroke-width="1.7" stroke-linecap="round" d="M157.7 504.7h0M87.6 535h0M80.2 505.2h0M104.6 490.4h0M101.3 513.8h0"/>
<path stroke="#2a2a7e" stroke-opacity="1" stroke-width="1.9" stroke-linecap="round" d="M107.8 474.5h0M90.7 519.3h0"/>
<path stroke="#2a2a7e" stroke-opacity="1" stroke-width="2.1" stroke-linecap="round" d="M177.5 474.6h0M82.3 490.5h0M179.3 515.4h0M164.4 536.9h0M179.3 476.3h0M128.6 493h0"/>
<path stroke="#2a2a7e" stroke-opacity="1" stroke-width="2.2" stroke-linecap="round" d="M97.3 475.3h0M135.5 521.2h0M142.6 539h0M158.3 474.5h0M125.1 555.6h0"/>
<path stroke="#7a7cd2" stroke-width="1.8" stroke-linecap="round" d="M58.8 462.2h0M175.8 461.2h0M130.2 464.9h0M65.4 467.5h0M69.6 470.7h0M114.3 471h0M150.7 471.5h0M71.8 473.1h0M147.8 474.5h0M168.3 474.1h0M143.9 476.9h0M128.4 478.1h0M86.4 481.6h0M92.2 482.5h0M136 483.9h0M96 487.1h0M160.3 487.2h0M178 488.4h0M64.3 491.1h0M106.5 490.1h0M70.2 494.7h0M175.9 507.7h0M118.2 510.6h0M150 510.1h0M78.3 514.8h0M86.3 518.9h0M94.1 518.1h0M177.2 517.7h0M76.7 521.2h0M102.4 520.8h0M111.1 520.2h0M155.7 520.5h0M160 520.3h0M171.5 521.6h0M177.7 521.4h0M104.2 523.1h0M129.1 523.6h0M148.1 523.5h0M73.7 526.9h0M95.5 525.8h0M57.4 528.2h0M94.4 528.2h0M157.9 528.2h0M181.1 528.6h0M160.6 533.8h0M107.3 538.1h0M133.6 536.5h0M60.5 540.7h0M118.6 539.3h0M161 539.3h0M102.7 545.6h0M151.2 545.3h0M100.9 548.4h0M121.6 549.2h0M163 548.1h0M98.6 553.5h0M155.7 554h0M169.4 553.8h0"/>
<path stroke="#7a7cd2" stroke-width="2.1" stroke-linecap="round" d="M90.5 461.4h0M109.9 462.7h0M87.8 464.4h0M98.4 464.2h0M77 468.5h0M89 470.4h0M118.5 469.8h0M130.7 470.9h0M133.8 471.5h0M171.1 472.8h0M79.3 475.4h0M106.5 479.7h0M108.8 478h0M156.7 478.3h0M76.4 482.6h0M89.8 481.8h0M107.1 485.2h0M140.6 485.1h0M156.5 484.3h0M81.5 487.3h0M172.3 488h0M67.1 490h0M142.6 489.7h0M119.9 492.2h0M137 493.4h0M181.7 493h0M78.7 495.9h0M104.2 495.3h0M112.5 494.8h0M164.8 495.6h0M119.3 501h0M81.3 504.6h0M152.9 503.3h0M90.5 507.2h0M82.6 510.1h0M102.5 510.6h0M123.5 512.6h0M81.4 514.6h0M95.3 515.4h0M133.6 516.1h0M69 518.2h0M113.8 518.5h0M144.1 524h0M174.1 523.5h0M105.1 527.3h0M108.5 525.2h0M81.2 529.6h0M173.8 528.1h0M103.9 535.1h0M147.4 539.7h0M169.8 539.1h0M83 545.7h0M154 546.8h0M113.3 548.1h0M68.4 550.2h0M113.8 551.1h0M158 550.9h0M60.4 554h0M68.5 554.4h0M160.2 555h0M145.5 557h0M150.6 557h0M178.3 559.5h0"/>
<path stroke="#7a7cd2" stroke-width="2.4" stroke-linecap="round" d="M142.6 461.2h0M70.1 465.5h0M150.1 464.5h0M102.7 467.8h0M175.7 468.6h0M121.9 469.5h0M68.5 472.4h0M86.7 472.3h0M63.4 476.5h0M120.5 476h0M66.1 482.2h0M56.1 484.1h0M153.5 484.1h0M179.4 483.4h0M63.3 486.4h0M120.5 486.2h0M143.4 486.7h0M182 486.7h0M87.5 490.5h0M124.6 490.8h0M58.9 492.9h0M105.9 495.3h0M115.4 495.7h0M111.8 498.8h0M115.3 498.8h0M57.3 500.9h0M99.5 500.5h0M125.9 500.5h0M153.5 501.7h0M85.4 504.5h0M58.9 509.1h0M75.2 508.9h0M94.8 509h0M104.1 510.4h0M120 510.4h0M67.7 512.8h0M182.3 514.7h0M77.5 517.9h0M141.2 518.5h0M126.2 521.8h0M78.3 528.4h0M82.9 531.1h0M80.1 533.8h0M107 534.5h0M103.9 539.2h0M115.7 540.4h0M163.7 539.9h0M109.4 546.6h0M129.6 544.8h0M182.1 547.5h0M74.4 550.5h0M168.2 551h0M79 553.6h0M55.2 557.7h0M70.5 556.6h0M102.6 557.1h0M128.6 557h0M170.7 557.6h0M124.8 559.6h0M135.8 559.4h0"/>
<path stroke="#7274cc" stroke-width="1.8" stroke-linecap="round" d="M107 465.7h0M156.5 465.7h0M162.6 464h0M105.6 468h0M166.2 466.8h0M59.1 470h0M84.8 471.1h0M103.9 471.6h0M172.6 472.6h0M94.4 479.8h0M64.4 483.8h0M96.3 485h0M144.1 490.9h0M91.4 491.7h0M62.1 494.8h0M129.5 496h0M131.7 495.1h0M162.2 498.1h0M67.4 500.9h0M160.7 501.9h0M182.9 501.9h0M127.5 508.8h0M145.8 511.5h0M166.5 512.1h0M89 515.8h0M59.1 518h0M96.5 518.4h0M62.3 520.7h0M91.8 520.9h0M105.6 519.7h0M116.6 521.7h0M97.2 523.5h0M150.1 523h0M175.7 527.2h0M96.1 529.6h0M116 528.1h0M73.4 532.1h0M75.7 530.7h0M96.3 531.3h0M175 531.7h0M140.6 533.7h0M92.1 536.8h0M171.9 536.7h0M87.3 539.6h0M150.4 539.3h0M56.5 543.5h0M145.7 545h0M73.1 549.5h0M63.5 553.6h0M108.7 555h0M131.5 557.2h0M142.2 558.9h0M176.1 560.2h0"/>
<path stroke="#7274cc" stroke-width="2.1" stroke-linecap="round" d="M71.7 462.1h0M81.1 462.5h0M169.3 461.9h0M183.6 463h0M169.7 465.5h0M100.8 468.4h0M137.5 470.9h0M83.9 472.9h0M112.1 472.3h0M116.9 472.4h0M145 473.5h0M59 481.5h0M63.4 481.9h0M78.9 482.2h0M129.4 482.1h0M149.9 480.9h0M144 485.3h0M92.8 486.7h0M57.4 489.8h0M93 489.1h0M167.6 489.4h0M182.9 490.8h0M67.2 493.1h0M76.6 493.3h0M124.6 492.4h0M175.2 493.1h0M144.4 495.2h0M176.3 495.2h0M148.9 499.3h0M110.3 504.1h0M94.1 506.6h0M63.6 510.5h0M180.7 508.4h0M126.5 511.5h0M153.4 515.6h0M120 517h0M125.2 518.2h0M151.6 517.3h0M136.9 520.2h0M90.6 524h0M112.6 523h0M121.2 526.7h0M183.8 528.4h0M121.8 530.7h0M67.6 534.4h0M134.9 533.7h0M90.7 545.4h0M116 550.8h0M153.8 552.1h0M143.1 553.9h0M180.9 554.1h0M179.8 556.8h0M139.3 560.1h0M181.8 559.4h0"/>
<path stroke="#7274cc" stroke-width="2.4" stroke-linecap="round" d="M127.8 465.4h0M61.3 467.7h0M113.4 468h0M73.7 469.7h0M164.6 470.6h0M78.7 473h0M97.5 473.1h0M106.7 473.7h0M65.8 476.3h0M68.9 475.1h0M107.3 475.6h0M136.2 477.2h0M91.2 478.6h0M123.4 479.2h0M81.4 482.2h0M124.5 484.3h0M105.4 486.6h0M131.4 490h0M138.8 489.9h0M73.4 495.4h0M123 494.8h0M138.8 495.1h0M156.9 496.2h0M63.9 499.4h0M68.7 498h0M115.7 500.4h0M157.2 501.6h0M174.6 501.6h0M180.5 500.6h0M124.2 503h0M131.1 505.8h0M141.2 507.5h0M123.4 509.8h0M97.6 512.4h0M109.2 512.1h0M135 513h0M138.2 512.5h0M156.8 511.5h0M101.4 515.8h0M171.3 514.1h0M106.6 518.1h0M132.6 520.9h0M162.4 519.7h0M58.4 523.8h0M72 523.9h0M110.6 527.1h0M137.1 525.8h0M168.4 525.4h0M91 528.6h0M109.9 534.8h0M137.8 539.3h0M154.3 541.1h0M101.8 541.9h0M136.1 542h0M115.8 544.8h0M122.5 545.7h0M131.1 545.1h0M62.2 549.5h0M97.5 547.4h0M139.4 550.7h0M87.8 554.5h0M105.2 555.1h0M73.6 556.7h0M77.6 555.8h0M141 556.8h0M73.3 560.6h0"/>
<path stroke="#4c4eae" stroke-width="2.1" stroke-linecap="round" d="M134.8 462h0M71.8 464.3h0M79 471.6h0M75.4 474.1h0M80.8 472.9h0M176.9 473.7h0M176.8 478.7h0M117.1 488.3h0M62.2 490.5h0M105.6 493.8h0M84.1 494.9h0M171 496.4h0M101.5 499.1h0M120.2 498.6h0M130.9 497.9h0M78.5 502.3h0M171 504.3h0M74.4 507.7h0M109.6 507.7h0M70 509.4h0M159.5 509.9h0M72.2 511.4h0M66.4 514.4h0M150.4 515.2h0M153 519.6h0M91.1 526.1h0M141.5 528.4h0M175.9 528.2h0M62.4 538.2h0M101.5 537.9h0M173.4 540.3h0M132.9 543.2h0M144.3 542.2h0M150.1 543.8h0M164.5 545.4h0M107.2 549h0M164.9 547.6h0M102.2 551.7h0M147.1 552.4h0M160.1 552.2h0M68.3 556.3h0M91.5 556.7h0M173 557.8h0M69.9 559.6h0"/>
<path stroke="#4c4eae" stroke-width="2.5" stroke-linecap="round" d="M55.1 462.1h0M74.6 463.3h0M64.3 465.9h0M117.5 464.5h0M66.1 470.9h0M61.1 475.9h0M101.7 476.2h0M151.7 476.6h0M165.9 475.3h0M87.7 479.5h0M152.9 482.7h0M67.1 484.3h0M176.6 484.9h0M75.9 487.5h0M69.5 493h0M82.5 492.3h0M99 491.8h0M148.6 493.3h0M99.6 496h0M85.8 498.8h0M112.4 500.6h0M91 502.9h0M107.4 503.6h0M115.8 505.9h0M121.3 507.9h0M126 507.2h0M172.9 506.6h0M183.3 507.4h0M78.9 508.9h0M153.8 508.6h0M155.8 509.4h0M75.2 512.3h0M85.6 514.6h0M160.6 517.1h0M183 518.8h0M80 520h0M81.4 521h0M181.7 520.9h0M75.5 525.6h0M64.6 528.5h0M63 532.6h0M126.6 531.7h0M174.5 534.1h0M60.7 537.9h0M67.3 540.8h0M99.2 540.4h0M107.3 539.6h0M121.2 542.2h0M126.2 542.7h0M165.2 543.2h0M89.3 548.2h0M104.1 548.7h0M159.8 547.7h0M178.1 548.4h0M73.7 554.6h0M96.4 556.4h0M126.6 560.1h0"/>
<path stroke="#4c4eae" stroke-width="2.8" stroke-linecap="round" d="M87.4 461.9h0M97.2 461.1h0M143.3 464h0M97.9 468.2h0M138.5 466.8h0M64.2 470h0M83.1 470.8h0M168.3 470.4h0M129.7 475.2h0M57.7 478.7h0M118.2 478.2h0M173.2 485.5h0M108.7 486.6h0M115 486.1h0M146.5 487.3h0M107.9 492.5h0M117.8 493.9h0M143 492.9h0M160.1 493.3h0M161.4 493.5h0M155.9 498h0M68.3 507.7h0M179.1 509.7h0M110.7 515.5h0M153.8 518.9h0M133 526.6h0M61.8 529.1h0M70.6 528h0M132.7 530.1h0M166.6 528.3h0M123.8 531.6h0M146 530.8h0M70.6 535.3h0M87 534.7h0M81.5 537.7h0M112 538.1h0M142.5 537.6h0M110.1 540.6h0M75.6 542.8h0M104.5 541.9h0M64.5 546h0M137.8 549.2h0M93.6 551.6h0M116.9 553.2h0M109.5 557.9h0M135.8 556h0"/>
<path stroke="#585cbc" stroke-width="2.1" stroke-linecap="round" d="M132 467.8h0M147.3 470.6h0M110.2 473.2h0M181.7 475.7h0M61.5 478.5h0M75.4 477.9h0M96.3 482.8h0M104.4 481.7h0M160 481.2h0M86.8 483.7h0M101.4 488.2h0M71.1 490.1h0M79.8 489.1h0M122.9 490.9h0M126.9 493.5h0M68.8 495.5h0M136.1 495.8h0M57.3 499.3h0M107.6 497.8h0M133 499.2h0M172.8 498.1h0M60.8 501.7h0M69.7 504.8h0M158.1 505h0M59.5 512.5h0M80.2 512.3h0M64.2 515h0M124 514.9h0M129.8 516h0M158.1 514.1h0M175.9 514h0M99.7 517.5h0M61.1 523.3h0M64.2 525.2h0M108.5 528.8h0M172.2 531.7h0M179.1 531.5h0M119 534.9h0M118.6 537.4h0M177.7 536.9h0M181.7 537.7h0M81.4 549.3h0M140.9 552.2h0M101.8 553.4h0M120.4 554.2h0M175.8 555.1h0M178.6 555h0M62.6 556.6h0M126.7 556.4h0M177.3 556.5h0M79.5 558.6h0M117 559.6h0M150.1 559.3h0M158.8 560.6h0"/>
<path stroke="#585cbc" stroke-width="2.4" stroke-linecap="round" d="M147.9 462.6h0M150.3 462h0M157 462.7h0M83.2 468.4h0M125.2 472.3h0M82.4 475.8h0M95.9 476.3h0M115 476h0M146.7 476.4h0M169.4 477.2h0M55.1 478.4h0M131 479.7h0M166.2 477.9h0M118.1 480.8h0M90.8 484.7h0M93.7 484.6h0M169.7 484.9h0M84.4 489.2h0M180.5 489.7h0M145.9 492.6h0M173.6 495.6h0M83.5 498h0M116.6 499.3h0M156.5 504h0M163.2 503h0M78 507.3h0M108 515.9h0M174.2 518.8h0M124 525.2h0M145.7 527h0M161.9 527.9h0M116.8 532.4h0M111.7 533.9h0M167.7 534.8h0M71.7 541.1h0M89.9 540.7h0M158.9 542h0M57.7 545.5h0M180.1 545.7h0M153.8 548.5h0M100.1 551.9h0M115.1 555.2h0M146.4 554.6h0M99 559.3h0M113.5 558.9h0"/>
<path stroke="#585cbc" stroke-width="2.8" stroke-linecap="round" d="M78 463.2h0M102.3 471.3h0M180 473.9h0M147.9 478.9h0M151.1 478h0M70.3 482.7h0M78.6 483.8h0M174.8 486.7h0M102.5 490h0M63.9 492.3h0M160.6 494.5h0M124.4 497.7h0M152 497.4h0M166.4 497.9h0M177.5 498h0M180.9 504.3h0M65.1 506.1h0M107.3 507.1h0M167.2 507.4h0M56.9 509.5h0M105.3 512.4h0M113.7 512.4h0M180.2 517.2h0M73.3 521.3h0M88.7 519.7h0M180.3 523.3h0M182.1 523.2h0M128 526.6h0M171.7 525.9h0M177.4 525.4h0M86.2 531.8h0M142.4 531.7h0M156.6 531.5h0M160.2 532.2h0M55.9 535.4h0M122.3 534.5h0M73.4 542h0M96 542h0M114.3 543.5h0M152.1 542.6h0M161.8 541.8h0M93.9 545.3h0M126.1 545.7h0M70.2 548.6h0M77 548.7h0M140.3 548h0M71.8 551.4h0M90.6 550.7h0M75 553.4h0M139.5 554.9h0M161.7 554.1h0M99 557.7h0M171.4 559.2h0"/>
<path stroke="#6064c4" stroke-width="2.1" stroke-linecap="round" d="M93.1 461.3h0M104.6 464.6h0M110.7 465.5h0M113.6 465.9h0M144.4 466.9h0M148.3 468.5h0M103.3 473.7h0M75.2 477h0M176.1 477.2h0M178.2 476.6h0M114.3 481.8h0M115.8 484.2h0M131.2 485.4h0M164.7 487.5h0M97.8 498.3h0M147.5 502.2h0M176 503.5h0M178.6 504.4h0M84.5 506.5h0M111.8 509.4h0M62.6 519h0M169 521.6h0M76.6 522.8h0M100.4 524h0M166.3 523.4h0M100.8 526.1h0M161.8 526.2h0M144 528h0M65.6 531.5h0M104.3 531.7h0M100.1 533.5h0M155.2 536.9h0M64.2 540.5h0M129.5 540.6h0M142.7 540.2h0M66.5 543.5h0M131.3 542.8h0M118.2 546.5h0M176.8 545.9h0M86.6 549.6h0M129.6 547.4h0M147.2 549.3h0M55.7 551.7h0M133.6 553h0"/>
<path stroke="#6064c4" stroke-width="2.4" stroke-linecap="round" d="M138 461.3h0M181 463.9h0M107.8 471.1h0M152.1 470.7h0M129.6 474.3h0M89 476.4h0M111.4 475.6h0M176.2 480.7h0M103.7 484h0M90.5 490.8h0M99.7 489.8h0M164.7 492.6h0M87.9 494.6h0M149 496.2h0M155 496.1h0M79.6 498.8h0M136.3 498.9h0M57.4 503.4h0M140.1 504.1h0M61.4 512.9h0M117.5 516.2h0M56.1 518.9h0M80.2 517.8h0M102.3 517h0M95.6 521.4h0M175 521h0M81.4 524.4h0M59.4 526.2h0M113.9 525.9h0M156 525.1h0M86.6 529.9h0M151.1 529.6h0M77.6 533.5h0M163.2 534.9h0M177.5 534.6h0M76.8 537.8h0M115.3 536.3h0M148.7 536.4h0M158.6 540h0M111.1 549.3h0M143.5 549h0M97.1 551.8h0M133.1 550.8h0M179.3 550.9h0M166.5 555.8h0M76.6 559.9h0M155 560.7h0"/>
<path stroke="#6064c4" stroke-width="2.8" stroke-linecap="round" d="M90.5 467.8h0M159.5 470.6h0M122.4 472.7h0M153.4 473h0M158.4 473.2h0M56 476h0M72.2 477.1h0M78 478.1h0M174 478.5h0M107.5 480.9h0M100.9 485h0M88.7 487.5h0M133.9 487.5h0M110.5 490.6h0M172.7 490h0M153.3 493.1h0M169.3 499.3h0M90 501.3h0M169.8 500.8h0M132.6 504.7h0M91.1 516h0M98.8 515.2h0M65.6 517.2h0M75.3 517.7h0M119.8 520.3h0M78.7 526.2h0M54.5 528h0M103.3 528.9h0M128.7 528.2h0M107.7 531.4h0M151.5 534.1h0M88.8 536.3h0M83.1 540.2h0M121.4 541h0M184 539.4h0M76.8 545.6h0M95.9 544.6h0M99.3 546h0M77.8 551.6h0M94.7 553.4h0M111.1 555h0M126.8 554.7h0M84 556.1h0M133.9 558.5h0M169.8 560.1h0"/>
<path stroke="#5e60c0" stroke-width="2.1" stroke-linecap="round" d="M99.1 462.5h0M102.5 463.1h0M112.6 462h0M92.8 464.5h0M140.4 465.5h0M175 465.3h0M122.9 467.6h0M57.7 470.8h0M161.7 474.3h0M155.2 477.2h0M62.2 485.2h0M161 484.6h0M167.8 485.5h0M123.4 487.2h0M127.1 487.3h0M96.1 488.9h0M120.1 489h0M163.1 489.5h0M133.8 492.5h0M168.1 496h0M95.8 497.9h0M176 498.3h0M181.3 499.4h0M54.5 500.6h0M128.7 501.6h0M151.5 500.3h0M73 504.5h0M91.2 512.2h0M102.1 511.8h0M116.6 512.1h0M147.3 512.1h0M154.9 512.2h0M105.8 514.9h0M121.6 514.9h0M145.7 516.8h0M166.4 520.3h0M119.6 522.6h0M82.7 525.4h0M85.7 525.9h0M129.4 526.4h0M182.2 526.1h0M105.9 528.9h0M170.3 528.5h0M114.3 531.5h0M153.1 531.4h0M91 534.7h0M169.7 534.9h0M97.1 540.7h0M79.6 543.1h0M182.7 543.9h0M106.8 546.4h0M137.4 545.8h0M169.9 546.8h0M171.1 547.6h0M84.8 551h0M124.9 551.7h0M92.7 553.1h0M64.1 556.7h0M111.8 556.4h0M91.7 560.1h0"/>
<path stroke="#5e60c0" stroke-width="2.5" stroke-linecap="round" d="M94.5 465.9h0M61 472.4h0M159.2 477.1h0M140.8 478.3h0M101.2 481.8h0M120.7 481.7h0M172.7 482.6h0M178 482.7h0M118.4 483.9h0M113.5 489h0M136 489.1h0M175.7 489h0M80.9 501h0M97 500.8h0M120.4 504.7h0M97.6 507.3h0M163.9 506.6h0M84.5 512.6h0M147.1 514.9h0M155.7 516h0M178 514.6h0M158.1 518.4h0M148.6 526h0M110.3 531h0M131.1 531.1h0M135.8 532.6h0M132.8 534.1h0M145 535.6h0M70.5 537.7h0M137.5 538.4h0M147.3 536.9h0M162.2 538.4h0M164.9 537.5h0M55.8 540.8h0M94.3 540h0M143.9 540h0M179.4 540.6h0M169.7 543.3h0M126.7 548h0M60.9 550.8h0M148.9 556h0M65.3 558.6h0"/>
<path stroke="#5e60c0" stroke-width="2.8" stroke-linecap="round" d="M57.1 464.4h0M159.2 465h0M166 465.3h0M66.9 467h0M125.9 468.7h0M180.2 468.6h0M89.5 473.2h0M133.1 474.1h0M183.9 472.4h0M164.5 479.9h0M126.5 481.9h0M143.2 480.9h0M122.3 483.6h0M86.4 486.3h0M156.5 487h0M54.3 489.8h0M73.4 492.1h0M89.3 492.6h0M65.8 498.1h0M76.3 497.4h0M146 499.2h0M70.6 500.2h0M74.7 502.2h0M141.9 500.7h0M130.8 504.4h0M147.3 504.1h0M88.1 507.2h0M66.2 509.8h0M98.2 509.2h0M130.5 510.5h0M63.8 513.1h0M87.7 511.4h0M127.4 515.9h0M163.9 518.8h0M132.7 523.2h0M154.4 522.7h0M157 524.1h0M170.8 523.4h0M154.3 528.8h0M166 530.8h0M65.5 538h0M125.5 540.9h0M167.7 540.8h0M69.6 543.5h0M83.2 541.8h0M108.9 543.5h0M55.7 544.9h0M62.5 545.9h0M83.4 559.1h0"/>
<path stroke="#686ac8" stroke-width="2.1" stroke-linecap="round" d="M106.8 462.1h0M179.8 461.5h0M102.5 465.7h0M80 468.8h0M160.3 468.3h0M140.9 469.8h0M55.7 473h0M171 476.3h0M64.8 478h0M70.4 479.6h0M104.2 478.9h0M112.3 478.8h0M155 477.8h0M57.8 481.5h0M162.9 485.4h0M69.6 486.2h0M137.1 488.3h0M56 492.1h0M101.9 492.5h0M76.9 504.8h0M144.4 507.5h0M114.7 508.5h0M137.9 517.1h0M86.3 520.8h0M123.2 524h0M68.2 529.9h0M139.2 528.6h0M59.4 531h0M180.7 532.8h0M92.6 534.1h0M127.6 537.7h0M77.7 539.7h0M81.1 540.7h0M140.1 543.1h0M134.1 548.9h0M130.1 554h0M106.8 556.4h0M161.2 557.4h0M105.6 559.9h0M120.8 558.7h0"/>
<path stroke="#686ac8" stroke-width="2.5" stroke-linecap="round" d="M75.1 465.7h0M124.7 464.2h0M118.8 468.7h0M157 468.3h0M95.9 471.3h0M163.2 472.5h0M123.5 476.2h0M132.6 476.7h0M137.3 478h0M155.9 482.2h0M71.9 483.8h0M151.8 491h0M86.1 492.2h0M115.4 493.9h0M167.7 493.8h0M152.2 496.6h0M92.8 499.1h0M118.7 503.8h0M118.9 507.4h0M135.9 505.7h0M141 508.4h0M169.5 511.3h0M173 513h0M177.5 512.9h0M139.5 516.1h0M84.4 518.9h0M59 521.6h0M98.2 521.1h0M160.2 522.8h0M159 526.5h0M148 533.7h0M124.9 536.3h0M134.7 540.4h0M62.2 543h0M88.9 543.8h0M92.4 543.1h0M124.9 543.2h0M171.7 543.7h0M175.1 548.6h0M152.9 554.3h0M119.1 557.3h0M137.4 557.1h0M63 559.2h0"/>
<path stroke="#686ac8" stroke-width="2.8" stroke-linecap="round" d="M132.1 461.4h0M83 465.9h0M71.8 468.8h0M128 467.6h0M170.5 467.5h0M174.6 468.1h0M183.7 467.7h0M98.5 471.2h0M111.5 470.4h0M123.8 469.9h0M179.1 470.5h0M58.1 473.5h0M149.9 476.6h0M182.5 482.5h0M147.4 485.6h0M151.1 483.5h0M74.4 489.6h0M115.5 489h0M154.8 489.5h0M161.3 490h0M111.7 493h0M156.4 492.7h0M171.3 493.3h0M73.5 498.7h0M103.5 502h0M106.4 500.2h0M139.4 500.4h0M100.9 503.3h0M149 503.9h0M179.3 512.8h0M75.8 516.2h0M168.1 514.6h0M68.5 521.7h0M145.9 520.9h0M75.2 524.1h0M138.3 523.4h0M177.8 522.9h0M148.9 528.8h0M132.8 532h0M62 534.8h0M73.6 534h0M153.8 534.2h0M73.2 538h0M70.4 546.6h0M161.3 545.7h0M166.3 544.9h0M167.9 549.5h0M169.4 550.5h0M136.2 553.6h0M147 559h0"/>
<path stroke="#5054b4" stroke-width="2.1" stroke-linecap="round" d="M78.2 465.1h0M84.7 465.7h0M133 464.4h0M162.6 469.5h0M111 482.2h0M133.5 482.6h0M136.3 481.5h0M162.3 481.8h0M129.7 485.1h0M169.5 487.4h0M139.1 491.8h0M124.7 494.7h0M142.2 496.2h0M61.1 498h0M104.6 497.3h0M142.4 504.6h0M165.3 505.1h0M71.1 506.2h0M154.2 505.9h0M156.7 507.6h0M160.7 506.8h0M92.8 508.7h0M145.7 510.1h0M129.2 512.8h0M56.3 514.6h0M114.8 514h0M56.5 521h0M107 521.5h0M143.5 520.9h0M93.6 524.5h0M89.3 527h0M182.4 534.5h0M57.3 537.5h0M121.2 538.1h0M151.9 538.3h0M110.9 542h0M179.5 543.4h0M88.2 544.9h0M66.3 548.9h0M78.5 549.3h0M174.3 550.8h0M176.1 551.7h0M85.7 553.5h0M125 554.7h0M110.9 560.5h0M165.8 560.7h0"/>
<path stroke="#5054b4" stroke-width="2.5" stroke-linecap="round" d="M155.5 461.6h0M147.2 465h0M117 468.8h0M142.2 468.9h0M127.6 471.2h0M64.6 474.2h0M100.6 478.6h0M71.9 480.7h0M168.4 481.9h0M81.8 483.7h0M113.2 483.7h0M138.1 483.7h0M139.8 487.1h0M129.6 493.7h0M182.7 496.5h0M140.2 498.1h0M142.2 497.3h0M87.7 500.9h0M94.7 502h0M136 500.9h0M163.7 502.2h0M128 507.6h0M146.9 507.1h0M182.1 513.3h0M73.5 515.5h0M110.3 517h0M132.3 518h0M130 521.4h0M126.4 523h0M122.6 529.1h0M116.6 534.7h0M137.8 533.9h0M98 536.3h0M104.9 536.8h0M73.5 546.1h0M65.7 551.1h0M121.6 550.3h0M66.9 554.8h0M123.3 556.1h0"/>
<path stroke="#5054b4" stroke-width="2.8" stroke-linecap="round" d="M124.9 462.5h0M129 463.2h0M163.6 461.9h0M152.6 465.4h0M74.9 468.2h0M150.6 467.1h0M75.7 470.1h0M118.5 472.6h0M136 473.7h0M109.5 485.4h0M56.9 486.8h0M152.7 487.8h0M77.1 489h0M94.2 491.9h0M178.6 493.9h0M109.7 496.6h0M120 495h0M88.1 499.4h0M159.6 498.4h0M83.4 500.3h0M110.2 501.4h0M131.7 500.3h0M89.9 502.9h0M127.6 503.8h0M168.5 504.8h0M56.2 506.1h0M58.8 506.9h0M102.7 507.6h0M179.3 507.4h0M134.7 509.1h0M136.6 510.1h0M161.9 510.3h0M92.8 512.1h0M99.8 511.4h0M150.1 512.7h0M89.4 516.8h0M117 517.3h0M128.4 517h0M124.2 520.6h0M139.2 519.8h0M84.7 522.5h0M110.1 524.3h0M142.6 524.5h0M69.9 525.2h0M68.7 531.5h0M93 530.9h0M102.2 532.4h0M148.6 532.8h0M57.3 535h0M155 542h0M136.2 545.2h0M142 545.2h0M150.6 549.3h0M155 548.6h0M81.7 551.4h0M149.1 553.5h0M166.1 553.9h0M57.3 556.1h0M86.5 556.1h0M94.4 557.4h0M158.1 558h0M85.5 560.3h0"/>
</g></g>
<rect x="57.05" y="464.05" width="124.7" height="94.1" fill="none" stroke="#000" stroke-width="1.7"/>
<clipPath id="che2"><rect x="56.2" y="560.8" width="126.4" height="95.2"/></clipPath>
<g clip-path="url(#che2)"><g filter="url(#soft)">
<rect x="54.2" y="558.8" width="130.4" height="99.2" fill="#8c8ad8"/>
<ellipse cx="66.31" cy="619.82" rx="9" ry="22" fill="#d8a8d8" opacity="0.8" filter="url(#big)"/>
<ellipse cx="157.32" cy="617.92" rx="7" ry="16" fill="#d0a8dc" opacity="0.7" filter="url(#big)"/>
<ellipse cx="125.72" cy="641.72" rx="6" ry="6" fill="#c8a8e0" opacity="0.5" filter="url(#big)"/>
<path stroke="#aaaaf2" stroke-opacity="0.45" stroke-width="6.9" stroke-linecap="round" d="M177 651h0M132.9 616.1h0M112.4 586.3h0M127 583.3h0M182.4 625h0M147.7 607.1h0M97.2 627.4h0M130.5 590.5h0M84.8 644.1h0M122.2 642.1h0M77.9 624.8h0M134 631.5h0M105.9 609.8h0"/>
<path stroke="#aaaaf2" stroke-opacity="0.45" stroke-width="8.3" stroke-linecap="round" d="M59.7 605.1h0M114.5 611.3h0M63.6 623h0M82.8 644.6h0M146.8 563.8h0M75.3 564.3h0M98.8 563.7h0M96.2 570.5h0"/>
<path stroke="#aaaaf2" stroke-opacity="0.45" stroke-width="9.8" stroke-linecap="round" d="M66.9 640.3h0M140.9 590.1h0M110.6 598.3h0M181.9 651.2h0M104.2 645.7h0M97.3 573.8h0M169.1 636.7h0M76.6 632.6h0M95.3 651.9h0M119.9 610.1h0M120.9 649.7h0M65.7 638.9h0M170.9 579h0M176.9 563.2h0M76.1 578.3h0M151.7 642.9h0M116 582.3h0M166.8 572.9h0M177.5 585.5h0M109.3 562.5h0"/>
<path stroke="#aaaaf2" stroke-opacity="0.45" stroke-width="11.2" stroke-linecap="round" d="M170.8 633.4h0M100.9 654.2h0M173.1 608.5h0M100.9 644.8h0M114.5 614.8h0M171 586.3h0M58.9 585.1h0M104.9 564.9h0M153 631.2h0"/>
<path stroke="#6e6ccc" stroke-opacity="0.6" stroke-width="4.5" stroke-linecap="round" d="M74 566.2h0M109.7 610.9h0M60.7 599.7h0M147.7 583.7h0M79.2 582.8h0M120.9 616.1h0M109 610.8h0M58.6 626h0M71.6 572.4h0M161.9 589.1h0M181.2 622.5h0M74.5 602.8h0M131.4 644.7h0"/>
<path stroke="#6e6ccc" stroke-opacity="0.6" stroke-width="5.5" stroke-linecap="round" d="M181.9 582.9h0M157.3 628.3h0M122 605h0M177.9 630.2h0M68.1 637.2h0M92.8 654.4h0M58.2 603.8h0M65.5 587.9h0M80.5 615.2h0M114.8 632.5h0M90.2 610.9h0M118 585.5h0M159.6 569.9h0M182.3 574.7h0M114.5 627.7h0M120.7 606.7h0M115.9 652.4h0M136.4 561.9h0"/>
<path stroke="#6e6ccc" stroke-opacity="0.6" stroke-width="6.5" stroke-linecap="round" d="M76.6 569.9h0M87.9 617.1h0M121.8 648.5h0M94.9 640.8h0M117.6 580.6h0M143.8 563.1h0M154.4 629.7h0M142 648.2h0M93.7 582.9h0M142.3 602.6h0M151.7 570h0M182 635.3h0M146 650h0M163.9 582.2h0M146.1 644.9h0"/>
<path stroke="#6e6ccc" stroke-opacity="0.6" stroke-width="7.4" stroke-linecap="round" d="M120.4 654.4h0M137.3 581h0M174.4 568.1h0M163.6 621.8h0M101.4 604.3h0M176.9 637.4h0M64.6 569h0M70.4 612.3h0M146.6 585.3h0M150.4 623.5h0M107.1 624.3h0M159.4 562.4h0M148.4 618.5h0M168 570.4h0"/>
<path stroke="#2a2a7e" stroke-opacity="1" stroke-width="1.7" stroke-linecap="round" d="M82.1 652.8h0M141.5 592.7h0M119.8 563.4h0M155.7 643.1h0M124.3 647.9h0"/>
<path stroke="#2a2a7e" stroke-opacity="1" stroke-width="1.9" stroke-linecap="round" d="M73.6 619.1h0M88.3 614.7h0M76.7 597.1h0M156.8 623h0"/>
<path stroke="#2a2a7e" stroke-opacity="1" stroke-width="2.1" stroke-linecap="round" d="M139.4 632.6h0M93.5 561.8h0M178.4 595.7h0M95.2 622.6h0M160.4 589.8h0M162.5 569.6h0"/>
<path stroke="#2a2a7e" stroke-opacity="1" stroke-width="2.2" stroke-linecap="round" d="M153.1 579.8h0M130.3 579h0M56.6 607h0M151.5 577.3h0M155.3 599.3h0M104.5 603h0M105.6 611.3h0"/>
<path stroke="#7a7cd2" stroke-width="1.8" stroke-linecap="round" d="M182 562.1h0M70.4 567.4h0M155 570.3h0M174 571.8h0M68.6 576.9h0M144.5 577h0M75.3 579.4h0M115.2 580.1h0M169.5 579.6h0M104.9 584.8h0M120.2 584.7h0M127.8 584.1h0M166.2 584.7h0M94.5 588.2h0M156.1 591.1h0M63.9 593.4h0M137.9 592.9h0M142.2 594.2h0M83.1 598.6h0M141.1 599.2h0M99.2 607.4h0M129.9 607.6h0M156.6 610.2h0M81.7 612.1h0M151.2 616.4h0M62.4 617.8h0M158.8 617.5h0M160.7 620.7h0M143.5 624.7h0M167.4 627h0M55.9 629.5h0M163.5 630.1h0M142.3 634.8h0M129 637.7h0M79.7 641h0M62.1 642.5h0M119.3 643h0M56.4 650.8h0M100 653.9h0M105.4 654.2h0M182.8 653.4h0M107.8 657.7h0"/>
<path stroke="#7a7cd2" stroke-width="2.1" stroke-linecap="round" d="M88.2 560.4h0M93.5 558.9h0M159.6 562.5h0M57.3 567.7h0M136.1 571.6h0M168.1 570.1h0M56.3 574h0M155 573.4h0M138.6 577.1h0M72.1 579h0M91.6 579.3h0M57.1 590.5h0M116.7 590.2h0M172.6 589.6h0M68.9 592.1h0M112.9 593.6h0M165.9 596.1h0M74.2 598.5h0M158.2 602.6h0M143.8 603.4h0M148.9 603.7h0M70.4 606.6h0M127.9 610.2h0M58.9 612.9h0M121.6 611.7h0M159.7 612.1h0M123.4 614.6h0M79.3 617.2h0M85.1 620.4h0M78.5 624.8h0M178 624.5h0M160.3 630h0M148.2 631.4h0M157.2 633h0M171.6 635.6h0M75.5 638.6h0M100.4 636.9h0M59.6 640.8h0M92.4 640.1h0M176.2 640.5h0M116.2 643.2h0M91.6 645.5h0M140 646.3h0M88 650.9h0M66.3 656.3h0M86.3 658.2h0"/>
<path stroke="#7a7cd2" stroke-width="2.4" stroke-linecap="round" d="M179.3 566.1h0M91.1 568.9h0M169.5 568.7h0M110 570.2h0M132.1 577h0M173.9 577.6h0M171.2 579.8h0M125.2 581.5h0M79.2 584.2h0M102.3 584.6h0M62 588.2h0M141.4 587h0M91.8 591.5h0M73.5 595.5h0M115.7 598.6h0M158.2 598.6h0M134.7 604.8h0M67.3 612.5h0M69.4 611.7h0M123.8 613.3h0M147.3 613.7h0M165.4 611.7h0M61.6 616.3h0M88.3 614.7h0M108.6 614.5h0M135.8 618.6h0M163.2 617.2h0M134.1 620.7h0M143.9 621.9h0M98.1 623h0M155.3 623.2h0M67.3 627.5h0M161.7 625.6h0M56.3 631.3h0M81.3 631.1h0M68.6 635.1h0M100.9 634.5h0M119.4 638.4h0M88 640.2h0M161.5 640.2h0M171.5 640.1h0M145.9 648.8h0M126.8 652.4h0M78.3 655.5h0M71.7 657.3h0M152 658.3h0"/>
<path stroke="#7274cc" stroke-width="1.8" stroke-linecap="round" d="M116.3 560h0M122.7 560.3h0M142.9 562.3h0M115.9 565.8h0M124.7 564.3h0M129.3 567.3h0M71.1 571.3h0M80.6 571.7h0M177.6 572h0M152.2 574.4h0M163.3 582.9h0M97.6 588.5h0M112.1 587.9h0M160.2 587.8h0M125.2 592.7h0M110 599.7h0M68.7 600.5h0M74.4 605.2h0M175.9 604.8h0M177.6 607.6h0M70.2 610h0M179.7 610.7h0M95.8 611.7h0M100.4 615h0M163.4 620.9h0M108.7 623.1h0M72.2 626.4h0M113.5 627.3h0M114.2 630h0M137.8 630.3h0M155.8 629.9h0M78.7 633.1h0M90.8 632.5h0M139.3 632.7h0M79.5 634.7h0M139.4 641.5h0M58.3 644.1h0M81.5 647.2h0M98.8 646.3h0M121.1 645.6h0M135.8 646.2h0M168.2 645.2h0M104.9 656.8h0M111.1 657.9h0"/>
<path stroke="#7274cc" stroke-width="2.1" stroke-linecap="round" d="M107.6 562h0M131.4 563.1h0M144.4 565h0M149.8 569.2h0M89.3 576.6h0M158.4 575.6h0M166.8 575.9h0M84.4 581.1h0M107.1 581.6h0M124.2 584.4h0M138.4 587.1h0M87.7 590.8h0M155.2 599.3h0M126.1 601.1h0M157.9 604.9h0M159.8 603.9h0M112.7 610.4h0M163.3 608.9h0M170 609.6h0M63.8 621.2h0M147.8 621.8h0M63.3 622.8h0M157.4 627.7h0M179.1 625.6h0M101.3 630.2h0M150.1 635.1h0M179.2 635.7h0M142.8 640.7h0M64 643.4h0M70.5 648.5h0M90.8 649.2h0M113.9 647.9h0M130 650.9h0M134.6 652.1h0"/>
<path stroke="#7274cc" stroke-width="2.4" stroke-linecap="round" d="M123.3 563h0M162.6 561.7h0M70.5 566.1h0M172.9 565.1h0M55.9 571.8h0M57.2 580.4h0M149.8 578.8h0M129.7 581h0M172.1 585.2h0M80.4 588.2h0M59.2 594h0M81.1 594.1h0M100 593.2h0M60.6 599.4h0M70.2 599.1h0M138.1 598h0M160.9 599.7h0M144.2 602.3h0M116.9 605.1h0M83.3 610.8h0M182.5 610.7h0M58.9 616.5h0M136 615.4h0M148.1 615.2h0M81.6 617.9h0M107 617.3h0M146 618.8h0M169.8 621.9h0M56.4 622.8h0M73.9 624.8h0M173.1 626.8h0M144.2 629.8h0M153.5 628.7h0M158.5 635.1h0M175 634.9h0M60.8 645.8h0M79.7 645.5h0M101 645.5h0M156.3 646.6h0M183.1 649.8h0M124.6 651.9h0M61 655.1h0M132.3 654.8h0M97.6 656.5h0"/>
<path stroke="#4244a6" stroke-width="2.2" stroke-linecap="round" d="M55.9 560.1h0M170.7 559.2h0M89.4 562.5h0M84.6 565h0M122.8 565.7h0M154.5 565.7h0M164.4 565.9h0M175.8 565.1h0M77 568.6h0M127 567.3h0M172 569h0M137.4 570h0M73.8 573.2h0M97.8 578.9h0M140.9 580.1h0M104.3 581.9h0M183.7 582.1h0M128.6 586.9h0M145.9 586.6h0M169.8 588.6h0M59.4 591.3h0M71.8 589.9h0M94.2 589.9h0M89.4 593.2h0M106.8 593.2h0M115 592.2h0M70.6 595.4h0M86.3 595.9h0M129.6 596.2h0M114.1 600.9h0M61.7 603.8h0M55.9 616.3h0M125.1 616h0M75.4 618.1h0M54.5 620.4h0M58.1 622.2h0M71.4 620.5h0M94.6 625.8h0M142.2 626.7h0M88.7 629.7h0M99.2 628.4h0M124.6 629.1h0M87.3 631.6h0M100.4 632.2h0M176 633.3h0M184.1 631.4h0M134 635.1h0M155.2 635.8h0M122 637.5h0M158.7 636.8h0M104.2 641.4h0M137.8 641.3h0M149.4 641.3h0M71.9 643.9h0M100.1 644.4h0M111.9 646.5h0M64.6 649.3h0M129.6 648.6h0M85 650.7h0M149.7 650.7h0M55.9 654.1h0M92.5 654.8h0M115.7 654.2h0M164.2 654.9h0M172.5 653.7h0M114.9 657.9h0"/>
<path stroke="#4244a6" stroke-width="2.6" stroke-linecap="round" d="M92.3 562.8h0M90.3 564.8h0M112.5 564.6h0M111.6 567.1h0M177.8 568.8h0M58.5 571.2h0M74.7 570.2h0M83.4 571.3h0M130.4 574h0M75.5 577.5h0M104 575.9h0M113.7 575.9h0M68.7 578.3h0M88.2 579.7h0M143.3 579.7h0M166.6 579.4h0M177.9 580h0M64.2 583.9h0M70.2 585.6h0M89.8 587.6h0M124.7 588.6h0M135.1 592.6h0M163.3 593.5h0M82 596.9h0M162.2 601.4h0M86.9 604h0M94.6 604.8h0M163.5 604.9h0M57.9 607.2h0M111 608.2h0M151.8 606.9h0M141.8 610.6h0M84.9 612.2h0M178.8 611.7h0M104.3 615.8h0M61 617.5h0M152.5 618.5h0M151 621.9h0M184.2 621.2h0M152.5 624.8h0M61.4 627.1h0M85.1 626.8h0M147.9 625.5h0M150.9 627h0M60.8 629.8h0M92.4 630.5h0M118.4 630.2h0M127.9 629.6h0M72.1 632.7h0M95.2 635.6h0M96.5 638.8h0M139.1 637.9h0M116.8 640.2h0M156.9 641.3h0M73.6 643.8h0M170.4 642.3h0M94.3 646.1h0M114.4 645.9h0M123.2 645.6h0M175.4 646.5h0M84.9 649.8h0M138.6 649h0M67 655.2h0M137.7 655.3h0M157.2 654.8h0M127.3 656.5h0M150.4 657.2h0"/>
<path stroke="#4244a6" stroke-width="2.9" stroke-linecap="round" d="M64.4 559.5h0M144.6 560.9h0M76.2 562.4h0M104.2 568.5h0M143.9 567.5h0M131.7 572h0M55.9 577.6h0M84.9 576.3h0M87.5 575.9h0M118.4 582.2h0M166.5 581.8h0M72.1 584.7h0M133 584.3h0M64.1 587.3h0M73.9 588.4h0M153.9 587.8h0M166.8 587.3h0M178 590.1h0M62.5 593.9h0M132 594.1h0M144.8 593.8h0M95.9 596.8h0M133.7 597.1h0M177.7 599.6h0M99.1 601.2h0M172.2 602.4h0M139.5 603.8h0M94.5 610h0M117.7 611.7h0M157 612.2h0M106.1 616.5h0M155 619.3h0M128.2 620.4h0M104.8 624.3h0M183.7 626.8h0M107.3 629.6h0M150.4 630.4h0M164.7 630.2h0M141.3 632.6h0M123 635.2h0M165.8 634.9h0M181.1 634.5h0M92.6 636.9h0M68.7 639.6h0M55.8 645.8h0M67.5 648.3h0M77.1 649.7h0M163.5 648.2h0M178.7 652.5h0M86.7 654h0M83.3 656.7h0"/>
<path stroke="#4a4aac" stroke-width="2.2" stroke-linecap="round" d="M58.5 559.9h0M70.8 558.9h0M136 559.7h0M167.5 566h0M95.4 573h0M128 572.7h0M129 577.6h0M182.3 576.5h0M85.7 578.8h0M159.2 578.9h0M108.5 582.1h0M82.8 585.1h0M126.9 589.4h0M165.4 589.5h0M176.3 590.2h0M158.1 594.3h0M107.4 595.8h0M65.8 597.8h0M94.4 601.2h0M121.8 600.5h0M62.3 606.9h0M79.7 607.7h0M117.1 606.8h0M61.8 610.2h0M81.7 610.3h0M79.7 612.2h0M137.6 611.8h0M72 615.1h0M69.6 623.6h0M181.4 624h0M75 626.8h0M80.2 626.6h0M181.2 628.5h0M160.5 631.9h0M85.6 641.3h0M178.7 640.9h0M180.6 641.4h0M132.3 643.1h0M126.7 646.4h0M170.9 648.6h0M177.6 649.1h0M179.7 648.5h0M104.7 651.7h0M139.1 651.4h0M160.1 651.9h0M109.4 654h0M122.9 655.1h0M134.9 653.7h0M95.5 658h0"/>
<path stroke="#4a4aac" stroke-width="2.5" stroke-linecap="round" d="M80.3 560.3h0M138.4 559.1h0M96 562.2h0M77 564.7h0M169.8 565.6h0M88.8 567.7h0M115 568.7h0M67.9 570.2h0M95.7 570.6h0M63.7 572.7h0M81.9 574.2h0M107.4 573.6h0M169.9 576.9h0M179 576.3h0M58.5 582.1h0M146.9 582.5h0M88.7 585.3h0M162.2 584.8h0M181 583.8h0M123.1 587h0M66.7 591.3h0M127.7 592.6h0M57.1 596.1h0M75.4 597h0M134.8 598.1h0M148.7 598.6h0M134.5 601.3h0M124.3 608h0M128 607.7h0M159.7 606.3h0M172.4 606.5h0M182.3 608h0M55.1 609.3h0M151.7 609.4h0M56.3 612.2h0M150.3 612.7h0M138.1 615h0M170.7 615.2h0M89.5 617.8h0M78.5 620.8h0M97.2 620.3h0M146.8 623.7h0M173.1 624.6h0M76.7 626.3h0M90.2 626.3h0M135.6 626.8h0M137.6 626.6h0M121.8 630.2h0M179 628.5h0M113.3 638.4h0M131.5 637.7h0M176.7 638.3h0M138.2 643h0M158.9 646.7h0M145.3 652.3h0M151.9 652.7h0M65.1 654.7h0M153.8 653.6h0M180.1 654.6h0M56.5 657.5h0M142.5 657.7h0"/>
<path stroke="#4a4aac" stroke-width="2.9" stroke-linecap="round" d="M95.9 559.1h0M125 567.3h0M96.3 576.6h0M115.2 576h0M87.3 581.1h0M91.2 581.6h0M169.6 584.3h0M158 588.3h0M137.3 589.5h0M177.7 594.2h0M63.2 596.3h0M102.6 596.9h0M135.7 594.9h0M153.4 595.7h0M92.4 601.4h0M139.8 602.5h0M108.5 606.3h0M99.3 612.4h0M94.5 614.8h0M177.2 615.8h0M168.8 619.2h0M172.2 618h0M92.9 620.2h0M112.2 620.2h0M76.3 623.7h0M105.5 629.4h0M112.6 631.6h0M127.8 632.7h0M105.8 634.5h0M58.6 638.3h0M78.3 638h0M77.1 642.2h0M93.4 644.3h0M162.9 642.6h0M183.4 643.7h0M134.3 647.1h0M58.5 648.9h0M124.8 648.3h0M81.8 654.1h0"/>
<path stroke="#5254b6" stroke-width="2.2" stroke-linecap="round" d="M62.3 559.5h0M156.8 559.8h0M172.8 559h0M64 562.8h0M79.7 567.5h0M109 568.5h0M140.6 568.1h0M78 570.5h0M170.9 570h0M147.6 575.6h0M79.7 578.4h0M82.4 580.2h0M112.1 580h0M55.2 581.5h0M99.8 583.2h0M137.7 582.9h0M108.3 584.1h0M117.6 584.1h0M150 586h0M62.7 589.5h0M113.3 590.5h0M92.9 592.9h0M155 593.4h0M67.1 597h0M67.5 599.2h0M163.7 599.8h0M145.9 601.1h0M97.4 605.3h0M66.9 606.6h0M92.2 607.2h0M96 607.5h0M143 608.2h0M121.8 609.5h0M143.1 612.5h0M163.3 612.9h0M168.4 612.6h0M91.2 615h0M165 615.6h0M182.8 614.7h0M140.2 617.9h0M87.2 622h0M154.4 627.1h0M66.7 628.8h0M169.4 629.4h0M92.7 634.2h0M65.1 638.6h0M125.5 637h0M170.5 638.2h0M100.8 640.1h0M124.9 640.2h0M128.2 639.5h0M142.1 643h0M77.1 645.9h0M172.1 646.6h0M104 649.2h0M62.6 650.8h0M110.4 652.4h0M150.1 654.9h0M91.3 657.1h0"/>
<path stroke="#5254b6" stroke-width="2.5" stroke-linecap="round" d="M125.6 560.6h0M132.8 559.7h0M179.4 560.3h0M183.4 560.4h0M136.9 563.4h0M139 563h0M153.1 563.6h0M55 566.3h0M73.6 565.6h0M137.3 565.2h0M82 567.4h0M88.2 571.8h0M118.9 571.4h0M157.4 571.9h0M101 573.7h0M121.9 580h0M123.3 582.7h0M154.1 582.2h0M176 582.3h0M84.9 585.8h0M177.8 587.4h0M121.7 593.1h0M105.2 596.1h0M120.7 595.7h0M140.6 596h0M159.4 596.3h0M56.1 598.3h0M59.3 598.2h0M128.9 598.2h0M137.6 600.4h0M175.4 607.4h0M74.4 609.3h0M155 609h0M173.2 609.2h0M68.3 614.7h0M167 615.8h0M173.9 616.2h0M113.4 618.5h0M178.7 619.3h0M181.4 617.2h0M179 620.2h0M63.9 625.6h0M153.9 632.5h0M116.6 634.6h0M86.3 637.1h0M103.4 638.6h0M116.2 636.9h0M155.3 638h0M56.1 640.8h0M166.3 639.9h0M127.9 644.2h0M160.4 644.1h0M59.2 651.5h0M101.2 650.6h0"/>
<path stroke="#5254b6" stroke-width="2.9" stroke-linecap="round" d="M78.7 563.4h0M103.9 563.2h0M166.3 563.5h0M57.8 565.5h0M134.1 564.3h0M67.2 567.8h0M147.9 570.5h0M180.6 572h0M115.2 573.8h0M146.3 573.9h0M61.3 576h0M142 576.7h0M94.9 579.2h0M163.1 579.8h0M172.7 582.3h0M82.9 588.3h0M76.8 589.7h0M172.7 593.8h0M92 596.1h0M117.2 595.7h0M123.8 601.4h0M153.6 600.9h0M78.5 604h0M84.1 605h0M109.3 604.9h0M122.5 604.1h0M167.7 603.7h0M101.5 607h0M101 612.9h0M112.5 615.4h0M56 618h0M174.8 618.7h0M166.2 620.2h0M88.1 623.8h0M137.7 623.3h0M86.9 627.1h0M110 626.7h0M70 630h0M71.9 629.4h0M85.7 628.4h0M55.9 635.1h0M67 634.8h0M72.9 634.6h0M130.3 634.1h0M108.9 644h0M122.8 649.8h0M98.9 652.1h0M142.3 651.1h0M160.4 654.6h0M69.3 656.6h0M156 657.6h0M158.8 657.5h0M174.5 658.1h0"/>
<path stroke="#5a5cba" stroke-width="2.2" stroke-linecap="round" d="M75.2 559.1h0M103 559.3h0M112.2 559.2h0M137.5 567.4h0M104.1 571.4h0M143.9 570.6h0M132.6 573h0M132.6 580h0M136.1 580.3h0M93 584.3h0M140.5 585.2h0M153.8 584.7h0M59.4 587h0M119.7 588h0M147.2 588.3h0M174.5 588.7h0M105.1 590.7h0M182.1 590.8h0M55 593.2h0M88 593h0M182.4 592.9h0M169.1 596.7h0M168.1 598h0M110.4 602.3h0M104.2 604.1h0M119.6 603.6h0M88.3 609.3h0M116.7 608.8h0M115.3 612.5h0M139.9 612.1h0M128 615.9h0M153.9 615.4h0M71.9 618.3h0M98 618.5h0M127.2 618.7h0M99.6 621.2h0M132.1 627.2h0M122.2 632.4h0M59.3 635.4h0M88.9 635.1h0M108.5 634.3h0M135.3 637.6h0M164.6 638.2h0M72.3 640.5h0M112 641.6h0M84 643.4h0M91.5 644h0M150.3 642.4h0M116.7 648.1h0M132.9 649.7h0M154.1 649.4h0M161.9 648.7h0M60.1 657.3h0M182.6 657.3h0"/>
<path stroke="#5a5cba" stroke-width="2.6" stroke-linecap="round" d="M68.9 560.7h0M160.7 560.5h0M80.2 565.2h0M159 568.6h0M121.5 571.7h0M125.7 571.9h0M59.3 573.7h0M123.3 576.6h0M177.8 577.5h0M116.9 580.2h0M78.4 581.9h0M80.8 582.5h0M159.8 582.3h0M180.8 582.3h0M97.7 585.5h0M70 590.1h0M98.1 590.8h0M70.4 592.9h0M83.8 592.7h0M109.4 592.1h0M151.4 593.1h0M98 597h0M162.6 595.7h0M150.3 598.1h0M129.9 601.2h0M68.8 604.9h0M59.2 607.8h0M82 607.1h0M121.3 606.7h0M65.4 611h0M96.5 609.9h0M65 614.4h0M65.4 618.7h0M111.9 618.9h0M130.5 619.2h0M103.5 620.9h0M130.7 623.8h0M55.5 627.6h0M97.7 627h0M175.8 627.3h0M139.5 629.6h0M171.6 629.7h0M173.3 631.5h0M145.9 635.2h0M147.3 641.2h0M103.9 644h0M118 646h0M165.1 645h0M86.1 649h0M72 650.7h0M120 652.7h0M119.9 655.1h0M167.8 653.6h0"/>
<path stroke="#5a5cba" stroke-width="2.9" stroke-linecap="round" d="M78.3 560.1h0M90.1 559.6h0M119.8 559h0M176.9 559.7h0M102 562.2h0M97.6 564.6h0M119.4 565.2h0M147.1 568.9h0M165.7 568.2h0M158.7 573.7h0M171.1 573.5h0M180.7 573h0M92.6 575.6h0M125.7 577.2h0M123.2 579.9h0M127.4 579.8h0M156.3 579h0M66 585.2h0M137.1 584.9h0M142.7 584.3h0M179.3 587.9h0M85.2 591.5h0M146.9 592.3h0M99.3 597.7h0M132.6 598.9h0M67.1 601.2h0M72.5 601.7h0M109.9 610.1h0M131.9 609.8h0M138.3 609.5h0M145.5 609.6h0M116.7 614.5h0M81.9 624.7h0M168.4 624.4h0M120 627.1h0M95.4 629.7h0M119.7 631.1h0M133.1 632.5h0M81.6 635.2h0M70.2 638.1h0M63.2 640h0M106.9 642.5h0M134.7 642.5h0M175.7 644.1h0M67.2 646.4h0M156.9 648h0M174.5 649.2h0M76.1 652.2h0M114.5 651.1h0M79.6 657.8h0M88.6 657.7h0M120.8 658.1h0M145.7 658.2h0M162.6 657.5h0"/>
<path stroke="#6062c0" stroke-width="2.2" stroke-linecap="round" d="M100.6 559.7h0M150.1 560.2h0M113.6 562.8h0M133.5 562.3h0M156.4 561.8h0M175.8 562.4h0M61.6 564.9h0M128.1 566.1h0M142.4 565.7h0M163.4 569h0M92.5 569.9h0M129.9 572h0M110.5 573h0M121 574h0M165.5 574.4h0M81.1 576.4h0M152.2 575.6h0M67.4 581.2h0M71.9 582h0M73.9 582.7h0M156 584h0M81.4 591.5h0M153.6 591.2h0M168.3 589.7h0M171.1 592.2h0M180 593.7h0M114.6 595.6h0M146.2 595.3h0M106.5 599.1h0M181 598h0M82.8 601.2h0M160.9 614.9h0M121.8 622h0M86.4 624.4h0M123.2 623.5h0M175.8 624.5h0M144.5 626.2h0M110.7 629.3h0M120 635.1h0M109.8 637.8h0M161.2 637.5h0M179.3 637.8h0M98.4 639.9h0M87.3 642.3h0M158.1 643h0M103.9 645.7h0M106.7 649.4h0M167 647.8h0M182.2 652.5h0M71.7 653.9h0M89.6 654.6h0M140.7 656.6h0M168 656.3h0"/>
<path stroke="#6062c0" stroke-width="2.5" stroke-linecap="round" d="M147 560.7h0M81.8 562.2h0M167.8 562.4h0M172.5 563.4h0M93.3 566.1h0M103.5 566.4h0M155.3 568.8h0M61.6 571.4h0M91.2 570h0M150.1 570.3h0M164.7 570h0M67.4 574.1h0M69.9 574.5h0M103.8 573.5h0M117.8 574h0M143.7 574.7h0M176.1 574.8h0M58.9 577.2h0M107.9 579.9h0M146.4 578.5h0M64.2 581.1h0M116.2 582.3h0M178.5 584.2h0M103.2 593h0M88.9 595h0M149.6 596.7h0M182.1 595h0M78.7 598.5h0M164.8 606.2h0M64.3 613.1h0M76.7 613.6h0M107.1 613.3h0M60.6 620.6h0M125.2 621.8h0M141.3 620.3h0M99.9 627.6h0M124.9 626.6h0M175 629.4h0M55.8 637.3h0M105.4 636.7h0M173.9 637.6h0M107.4 641.4h0M153.3 640.3h0M67.8 644.2h0M155.3 642.7h0M181.4 645.3h0M68.6 651.6h0M82.7 651h0M108 651.1h0M129.6 657h0"/>
<path stroke="#6062c0" stroke-width="2.9" stroke-linecap="round" d="M73.8 561.8h0M67.8 565.3h0M87.5 564.3h0M109.5 566.4h0M132 565.6h0M182.7 566.2h0M120.1 568.5h0M91.2 574.8h0M168 573.3h0M119.6 575.7h0M160.5 576h0M63.1 579.9h0M130.4 579.2h0M94.6 582.8h0M96.9 582.9h0M113.5 582.4h0M132.4 582.7h0M158.7 581.4h0M170.5 582.7h0M115.3 584.3h0M145.9 585.7h0M70.8 587.5h0M87.9 587h0M102.2 588.4h0M105.4 587.8h0M109.8 586.7h0M135.7 586.8h0M152.2 586.9h0M164.5 588.3h0M81.1 597.7h0M91.2 599.5h0M97.4 598.6h0M122.7 598.6h0M182.6 598.1h0M89.7 602h0M150.2 602.3h0M64.3 605.1h0M136.8 606.4h0M134.2 609.5h0M126.9 612.2h0M84.7 617.3h0M100.6 619.2h0M68.5 621.7h0M90 621.6h0M109 621h0M118.7 620.3h0M111 623.4h0M150.4 622.8h0M122.8 627.4h0M67 631.3h0M96.7 632.4h0M105.8 631.1h0M116 632.5h0M144.7 633.2h0M76.6 634.6h0M168.8 635.7h0M61.5 638.5h0M83.7 636.8h0M89.5 636.6h0M142.3 637.9h0M145.1 636.7h0M148.8 637.1h0M76.9 639.9h0M81.4 640.2h0M54.4 643.2h0M81.7 643.9h0M113.2 644h0M63 647.2h0M54.9 648.2h0M96.4 648.2h0M100.5 647.9h0M66.3 650.8h0M79 651.2h0M117.5 652.6h0M161.6 651h0M164.8 651.2h0M129.3 655h0M141.9 655.2h0M133 657.5h0M165.9 658.1h0"/>
<path stroke="#4a4cae" stroke-width="2.2" stroke-linecap="round" d="M109.2 559h0M140.5 558.9h0M167.2 560.7h0M86.2 563.5h0M149.9 561.9h0M64 568.6h0M100.3 570.2h0M84.6 574.1h0M64.1 575.8h0M70.6 576.9h0M106.3 576.9h0M136.3 575.5h0M154.9 577.2h0M142.5 581.9h0M145.1 582.6h0M159.7 585.8h0M56.3 588.1h0M183.3 587.4h0M101.8 590.4h0M111.5 589.4h0M140.5 591.3h0M159.2 590.8h0M111.2 596h0M154.9 596.9h0M175.7 595.8h0M86.3 599.1h0M103.9 598.6h0M125.1 598.1h0M145.3 598.5h0M173.4 598.3h0M85.2 602.4h0M175.7 601.9h0M132.5 607.5h0M156.6 606.9h0M77.6 609.9h0M91.4 610.4h0M89.1 613.3h0M104.1 612.2h0M176.2 612.7h0M76.9 616.2h0M96.6 616.4h0M157.5 615.3h0M124.2 618.6h0M143.2 618.1h0M148.9 618.2h0M116.3 620.4h0M92 622.7h0M102.5 623.8h0M59.2 626.5h0M103.3 626.6h0M115 626.2h0M64.2 630.5h0M74.7 633h0M126.3 632.5h0M167.7 632.3h0M179.2 632.4h0M137.6 633.9h0M140.9 635.8h0M183.4 637.9h0M132.9 640.9h0M72.3 647.2h0M108 646.6h0M145.6 645.7h0M62.2 649.2h0M142.5 648.9h0M137.5 651h0M117.6 657.3h0M123 657.2h0"/>
<path stroke="#4a4cae" stroke-width="2.5" stroke-linecap="round" d="M99.2 562h0M111.1 563.1h0M117.5 562.1h0M146.9 562h0M147.9 564.9h0M157 566.2h0M59.8 567.3h0M140.9 570.7h0M87.8 574.6h0M136.4 574.2h0M149 572.6h0M99 576.5h0M109.5 575.4h0M163.5 576.7h0M102.3 580.3h0M79 589.5h0M121.4 591.2h0M75.1 594.1h0M119.5 593.9h0M79.6 597.1h0M124.3 595.2h0M126.9 595.6h0M172.7 595.9h0M93.1 599.2h0M78.1 602.5h0M166.5 600.7h0M177.6 600.8h0M81.1 603.4h0M100.7 603.2h0M153.9 605h0M171.5 603.5h0M85.1 606.9h0M68.1 609.1h0M81.6 620.5h0M131.6 620.6h0M177.6 620.4h0M132.7 623.5h0M170.2 625.9h0M85 632h0M164 632.9h0M97.7 634.6h0M166.6 637.8h0M95.4 641.6h0M169.5 641.3h0M122.7 643.7h0M180.8 644.3h0M85.1 645.9h0M152.6 645.2h0M178.5 646.3h0M109.6 649.4h0M91.9 651.8h0M157 651.9h0M104 654.7h0M64.2 656.6h0M77 656.3h0M171.5 657.9h0"/>
<path stroke="#4a4cae" stroke-width="2.9" stroke-linecap="round" d="M155.3 560.5h0M126.6 561.9h0M65.9 566.3h0M96.2 568.8h0M97.5 569.1h0M105.5 571.1h0M113.1 570.4h0M161.4 571.5h0M124.9 573.4h0M181 580.2h0M61.9 581h0M134.2 582.1h0M111.3 584.4h0M131.3 584h0M67.7 587.6h0M131.1 588.4h0M123.9 590.6h0M130.3 589.3h0M133.6 591.1h0M167.7 594.1h0M102 600.9h0M118.3 602.7h0M125.1 604h0M141.6 605.2h0M174.7 604.3h0M114.2 607.7h0M59.4 609.7h0M119.4 609.1h0M148.1 609.6h0M182.5 613.6h0M145.2 615.2h0M92.4 618.4h0M96.2 617.8h0M121.5 618.4h0M133.7 618.7h0M106.9 620.5h0M138.9 622.1h0M60.6 624.9h0M128.1 624.6h0M158.8 624.4h0M161.8 624.3h0M146.9 628.6h0M109.2 631.2h0M169.6 631.2h0M152.8 635.2h0M81.3 636.9h0M124.7 643.6h0M147.3 642.3h0M167 642.7h0M142.2 646.1h0M169.9 650.6h0M58.3 654.6h0M112.6 653.5h0"/>
</g></g>
<rect x="57.05" y="561.65" width="124.7" height="93.5" fill="none" stroke="#000" stroke-width="1.7"/>
<clipPath id="cki1"><rect x="185.9" y="463.2" width="127" height="95.8"/></clipPath>
<g clip-path="url(#cki1)"><g filter="url(#soft)">
<rect x="183.9" y="461.2" width="131" height="99.8" fill="#bcc2d8"/>
<path stroke="#dccfd6" stroke-opacity="0.6" stroke-width="4.8" stroke-linecap="round" d="M262.6 523.1h0M297.5 472.5h0M258.7 490.5h0M294.4 558h0M287.6 502.5h0M191.5 522.1h0M263.4 478.2h0M252.1 515.7h0M238.6 518.8h0M264.1 523.8h0"/>
<path stroke="#dccfd6" stroke-opacity="0.6" stroke-width="6.3" stroke-linecap="round" d="M216.1 515.3h0M187.6 543.4h0M215.7 558.6h0M276.6 551.4h0M213.5 555.7h0M189.9 482.1h0M299.8 499.4h0M308.2 487.3h0M261.2 493.9h0M216.2 481.2h0M274.6 473h0M228.3 543.1h0M294.6 479.4h0M268.5 548h0M267.4 540.4h0M220.3 496.4h0"/>
<path stroke="#dccfd6" stroke-opacity="0.6" stroke-width="7.8" stroke-linecap="round" d="M292.1 508.8h0M252.3 534.2h0M194 535.8h0M265.5 492h0M234.9 496.8h0M260.1 549.8h0M308.4 549.9h0M225.2 470.6h0M251.9 524.9h0M250.3 504.5h0M265.6 507.9h0M230.7 530.9h0M188.7 469h0M225.6 498.6h0M189.3 517.7h0M214.5 474.8h0"/>
<path stroke="#dccfd6" stroke-opacity="0.6" stroke-width="9.3" stroke-linecap="round" d="M205 524h0M224.2 466.2h0M245.9 532.1h0M287.6 505.8h0M303.9 545.2h0M271.2 478.8h0M276.6 483.4h0M223.2 536.9h0M277.1 494.9h0M310.4 511.6h0M296.1 493.3h0M256.9 522.6h0M216.1 492h0M224.1 499.3h0M225.3 484.5h0M210.1 540.5h0M209.2 489.9h0M202.4 491.2h0"/>
<path stroke="#a8bce0" stroke-opacity="0.7" stroke-width="7.3" stroke-linecap="round" d="M306.6 552h0M222.4 540.8h0M187.6 534.6h0M288.3 542.1h0M265.7 545.8h0M186.1 468.5h0M210.2 494.7h0"/>
<path stroke="#a8bce0" stroke-opacity="0.7" stroke-width="9.7" stroke-linecap="round" d="M297.7 557.7h0M251.8 490.9h0M246.5 538.1h0M226 493.3h0M268.1 519.4h0M256.5 531.8h0M196 480.3h0M262.7 538.2h0M287.6 522.9h0M239.3 529.7h0M195 503.9h0M297.6 552.9h0M299.9 539h0"/>
<path stroke="#a8bce0" stroke-opacity="0.7" stroke-width="12.1" stroke-linecap="round" d="M280.6 543.4h0M214.8 469.7h0M299.8 549.4h0M224 526.7h0M238.4 553.2h0M220.4 488.9h0M294.4 471.5h0M233.2 510.7h0M217 514.5h0M270.7 533.5h0"/>
<path stroke="#a8bce0" stroke-opacity="0.7" stroke-width="14.5" stroke-linecap="round" d="M239.2 502.4h0M205.7 463.6h0M300.7 529.7h0M229.3 487.4h0M211 514.4h0M207.7 539h0M239.6 508.5h0M201.7 469.8h0M244.8 475h0M270 548.2h0"/>
<path stroke="#a4b4dc" stroke-width="2.2" stroke-linecap="round" d="M188.6 467.8h0M223.9 469.4h0M217.5 472.4h0M300.4 475.6h0M241.4 479.3h0M211.1 500.4h0M213.1 504.7h0M241.8 512.6h0M258.7 512.9h0M301.8 513.2h0M188.7 517.9h0M234.7 534.9h0M262.9 542.3h0M262.5 547.7h0M224.3 550.7h0"/>
<path stroke="#a4b4dc" stroke-width="2.5" stroke-linecap="round" d="M226.8 465.3h0M204.2 481.9h0M187 499.2h0M262.9 502.7h0M184.5 517.4h0M196.8 524.2h0M289 527.2h0M250.7 552.1h0M223.6 557.2h0"/>
<path stroke="#a4b4dc" stroke-width="2.8" stroke-linecap="round" d="M191.9 460.9h0M300.6 461.1h0M222.9 465.8h0M300.7 480.3h0M292.5 486.5h0M244.8 493.5h0M282.4 493.2h0M208.3 511h0M265.3 512.8h0M229.5 523.3h0M214.3 526.3h0M308.6 530.2h0M206.4 533.4h0M266.9 533.1h0M225.2 537.4h0M187.8 549.2h0M249 547.1h0"/>
<path stroke="#9cacd4" stroke-width="2.2" stroke-linecap="round" d="M313.6 478.4h0M308.7 485.1h0M197.2 496.8h0M251.8 497h0M255.7 502.1h0M290.2 507.6h0M291.5 517.8h0M205.7 520.5h0M276.8 522.8h0M191.7 529.8h0M201.9 530.7h0M270.8 530.2h0M199.3 540.4h0M223.4 541.8h0M311 550.8h0M227 555.1h0M253.3 559.2h0"/>
<path stroke="#9cacd4" stroke-width="2.5" stroke-linecap="round" d="M212.4 462.8h0M192.2 485.9h0M232 489.7h0M290.8 488.8h0M301 492h0M300.7 509.9h0M185.7 514.9h0M196.2 538.6h0M205.4 540.9h0M209.2 540h0M282 547.3h0M199.4 550.3h0M243.1 555.4h0M290.8 555.9h0M196.7 557.4h0M288.9 558.2h0"/>
<path stroke="#9cacd4" stroke-width="2.8" stroke-linecap="round" d="M256.4 470.1h0M304.8 473.1h0M227.4 488.3h0M185.3 496.8h0M297.1 500.9h0M202.1 508.2h0M282.9 511.6h0M227.4 529.7h0M270.8 540.3h0M229.7 551.1h0M283 550.4h0M238.5 553.6h0M207.5 559.7h0"/>
<path stroke="#8a94bc" stroke-width="2.2" stroke-linecap="round" d="M276.2 460.9h0M235 492.4h0M204.9 503.6h0M258.1 506.1h0M263.2 510.3h0M203.6 520.1h0M246.5 522h0M184.4 524.6h0M209.4 544.4h0M312.3 545h0M205.6 547h0M262.6 555.7h0"/>
<path stroke="#8a94bc" stroke-width="2.5" stroke-linecap="round" d="M233.5 476.2h0M288 475.3h0M196.5 483h0M228.2 482.2h0M270.7 486h0M193.6 496.5h0M211.4 495.9h0M280.3 499.9h0M293.7 499.8h0M209.1 502.8h0M308.8 506.4h0M236.9 513.5h0M261 520.4h0M204.8 523.9h0M294.7 523.8h0M306 535.4h0M279 541.1h0M193.2 545.1h0M231.4 544.9h0M292.7 544.2h0M203 547.2h0M195.6 554.3h0M293.9 555.5h0"/>
<path stroke="#8a94bc" stroke-width="2.8" stroke-linecap="round" d="M252.3 477.1h0M199.3 494.4h0M188.3 496.2h0M189.8 510.7h0M192.7 518.2h0M251 523.3h0M226.4 535.6h0M283.9 538.1h0M205.6 543.4h0M277.4 549.3h0M249.1 559.6h0"/>
<path stroke="#4a4a74" stroke-width="2.2" stroke-linecap="round" d="M205.2 475.8h0M261.3 490.2h0M296.6 496.1h0M185.1 502.8h0M219.2 519.9h0M223.4 521.1h0M194.4 526.1h0M249 527.2h0M255.8 538.8h0M187.3 541h0M195.8 544.5h0M211.6 552.7h0M209.5 554.3h0M221.4 555.9h0M184.1 558.5h0M199.5 559.2h0M215.9 557.8h0"/>
<path stroke="#4a4a74" stroke-width="2.5" stroke-linecap="round" d="M287.5 490h0M292.9 519.8h0M313 527.8h0M240.3 536.8h0M196.1 541.8h0M267.5 550.4h0"/>
<path stroke="#4a4a74" stroke-width="2.8" stroke-linecap="round" d="M290.4 486.8h0M213.1 490.5h0M312.6 492.4h0M232.1 504h0M183.8 510.3h0M195 521.5h0M225.3 523.1h0M285.1 526.3h0M292.4 526.8h0M298.7 542.4h0M304.5 546h0M275 555.1h0M220.3 559.1h0M235.4 558.8h0"/>
<path stroke="#7a321e" stroke-width="3.2" stroke-linecap="round" d="M183.8 462.4h0M245.5 463.3h0M247.8 461.3h0M279.5 462.8h0M231.1 465.8h0M246.1 465.9h0M269.3 466.7h0M273.1 468h0M312.1 467.9h0M259.7 477h0M256.8 479.2h0M186.4 485.4h0M205.6 486.3h0M225.7 495.2h0M307.9 496.9h0M194.8 498.9h0M277.9 498.8h0M288.9 498.7h0M200.6 504.5h0M245 514.7h0M288.2 520.4h0M240.7 523.2h0M222.7 526.6h0M242.7 527.3h0M257.6 527.3h0M282.9 531h0M292.2 531.9h0M192 536.5h0M223 547h0M204.2 552.6h0M278.5 551.1h0M300.5 552.3h0M206.8 556.2h0M232.2 558.6h0"/>
<path stroke="#7a321e" stroke-width="3.6" stroke-linecap="round" d="M247.1 469.7h0M252.6 469.5h0M275.9 468.9h0M288.8 468.4h0M312.4 473.7h0M247.6 475h0M249.1 479.5h0M196.3 488.9h0M306 492.3h0M311.1 497.7h0M217 503h0M212.5 511h0M245.5 511.2h0M266 520.1h0M274.2 519.6h0M266.6 524.2h0M276.7 526.9h0M237.2 532.1h0M189.8 548.2h0M274.3 547.6h0M259.4 552.1h0"/>
<path stroke="#7a321e" stroke-width="4" stroke-linecap="round" d="M236.5 461.7h0M292.5 469.4h0M245.3 473.3h0M278.8 473.6h0M195.9 479.5h0M259.2 483.5h0M224.6 488.4h0M191.8 494.5h0M242 493.7h0M239.1 495.4h0M290.2 497.9h0M218.6 507.1h0M251.2 507.5h0M192.9 509h0M203.9 516.6h0M221.3 517.4h0M186.5 527.2h0M302.7 526.9h0M269.4 534.4h0M285.3 535.6h0M263.3 537.3h0M303.1 536.5h0M185.2 545.9h0M247.2 543.5h0M307.2 543.3h0M309.5 548.8h0"/>
<path stroke="#662818" stroke-width="3.2" stroke-linecap="round" d="M216.7 463.5h0M289.7 465.4h0M312.4 465.6h0M209.4 472.4h0M227.4 472.2h0M265.6 478.6h0M260.8 485.4h0M311.7 489.8h0M207.1 494h0M199.4 496.7h0M227.3 496.2h0M287.7 497.6h0M225.2 501.3h0M240.2 502.8h0M238.9 507.2h0M282.3 508h0M197.9 513.8h0M271 512.9h0M313.8 513h0M217.1 518.1h0M235.5 521.2h0M278.7 525.4h0M218.7 527.5h0M261.1 527.2h0M188.9 531.8h0M184.3 538.2h0M288.7 542.3h0M302.1 540.5h0M283.2 545.2h0M264.8 546.9h0M286.5 551.5h0M292.7 551.3h0M198.6 555.2h0"/>
<path stroke="#662818" stroke-width="3.6" stroke-linecap="round" d="M188.5 462.3h0M255.9 463.1h0M220 469h0M235.9 468.2h0M255 479.6h0M289.3 479.5h0M249.3 485.1h0M298.3 490.9h0M237.8 493.9h0M273 494.2h0M243.3 496.4h0M257.1 497h0M214.2 500.6h0M235.3 499.1h0M244.9 499.9h0M265.3 500.4h0M284.4 503h0M274.7 508h0M302.4 507.9h0M199.5 510.8h0M220.4 509.7h0M304.3 511.3h0M201.5 515.1h0M261.1 514.2h0M278.3 514.6h0M199.8 534.7h0M295.7 537.2h0M197.7 548.2h0M290.4 547.9h0M215 554.8h0M249.8 555.6h0M271.2 558.7h0"/>
<path stroke="#662818" stroke-width="4" stroke-linecap="round" d="M227.4 462.2h0M233.6 466.4h0M195.5 469.7h0M227.3 468.8h0M307.3 467.9h0M199.8 473.8h0M289.3 472.1h0M308 472.5h0M237.6 475.2h0M206.8 478.3h0M309.6 478.3h0M297.3 485.3h0M208.1 490.1h0M280.3 490.1h0M251.1 499.8h0M301.1 499.5h0M193.6 504.1h0M292.3 503.5h0M307.3 503.2h0M234.2 505.7h0M312.7 506.3h0M225.4 510.1h0M229.6 510h0M236.4 509.2h0M249.4 510.3h0M267.5 511.1h0M254.6 513.1h0M281.3 514.3h0M249.1 517.3h0M253.7 520.6h0M285 520.4h0M189.4 523.4h0M282.3 528.1h0M273.9 534.6h0M271.4 538.6h0M235.6 540.3h0M287.2 544.5h0M193.7 549.3h0M197.8 550.7h0M231.6 551.3h0M202 553.7h0"/>
<path stroke="#803420" stroke-width="3.2" stroke-linecap="round" d="M218.1 466.6h0M282.4 465.6h0M184.4 467.8h0M292.9 472.6h0M223.6 476.7h0M186.1 479h0M194.2 483.7h0M207.8 482.6h0M296.4 482.4h0M235.4 497.4h0M221.3 500.9h0M284.7 500.7h0M309.2 499.5h0M235.6 504.8h0M286.9 507.3h0M241.6 511.1h0M286 513.4h0M245.2 517.3h0M288.9 516.1h0M230.6 521h0M302.5 520.7h0M312.1 520.8h0M271 523.7h0M207.5 528.4h0M265.3 526.5h0M209.4 530.2h0M191.2 534.9h0M293.9 534.9h0M279.6 538.6h0M190.5 541.4h0M223.5 545.6h0M213.8 549.1h0M285.4 547h0M185.7 552.6h0M219.9 552.7h0M236.5 550.5h0M240.2 552.6h0"/>
<path stroke="#803420" stroke-width="3.6" stroke-linecap="round" d="M286.6 466.2h0M293.4 466.2h0M201.5 470.3h0M280.8 469.9h0M253.8 472.1h0M272.8 471.2h0M255.5 476.9h0M292.9 476h0M225.2 478h0M233.5 479.1h0M293.2 478.2h0M200 483.4h0M257.1 481.9h0M221.9 486.4h0M304 487.5h0M253.1 491h0M256.4 489.7h0M231.2 493.1h0M261.1 494.3h0M220.7 496.9h0M263.1 501.2h0M249.9 514.3h0M231.5 517.3h0M242.1 521.8h0M250.6 520.6h0M268.7 519.3h0M278.5 519.4h0M310.3 523h0M277 531.5h0M215.2 542.3h0M247.3 541h0M257.4 542.4h0M239.8 545.9h0M300.7 544.2h0M300.7 547.7h0M194.1 550.3h0M229.6 559.7h0M243.6 557.9h0M283 558.2h0"/>
<path stroke="#803420" stroke-width="4" stroke-linecap="round" d="M197.7 463.5h0M215.6 466.9h0M244.8 470.2h0M261.3 467.7h0M202.6 472.8h0M242.5 471.5h0M285.1 471.3h0M212.8 483.4h0M249.5 492.1h0M269.4 498.6h0M245 502.3h0M251.9 502.8h0M275.6 503.4h0M241.8 507.6h0M306.6 507.2h0M207.9 513h0M221.8 515h0M228.3 518.2h0M243.8 523.2h0M286.5 529.6h0M202.1 535.3h0M200.8 538.1h0M275.5 537h0M285.2 541.5h0M244.2 545.7h0M208.7 552.9h0M307.3 551.1h0M276 559.1h0"/>
<path stroke="#5a2216" stroke-width="3.2" stroke-linecap="round" d="M202.1 462.4h0M205.3 463.4h0M294.4 461.6h0M189.9 466.7h0M309.6 465.6h0M300.4 469.3h0M205.8 471.4h0M246.6 479.5h0M276.2 483.1h0M301.4 486.6h0M240.1 489.6h0M266.5 488.9h0M219.5 493.2h0M223.5 503.3h0M248.9 504.7h0M303.3 503.6h0M232.3 510.6h0M276.3 510.6h0M287.6 509.1h0M234.9 527.5h0M310 530h0M282.5 533.4h0M296.3 534.9h0M221.1 538.6h0M308.4 537h0M309.2 541.3h0M229.3 544.3h0M271.9 551.7h0M309.9 554.3h0M268.2 559.3h0"/>
<path stroke="#5a2216" stroke-width="3.6" stroke-linecap="round" d="M221.4 463.5h0M306.3 463.4h0M193.8 465.2h0M298.1 465.3h0M267.1 467.8h0M244.8 476.7h0M199.6 478.6h0M214.4 478.4h0M262.9 478.5h0M249.2 482.7h0M251.8 483.7h0M264.4 483.2h0M307.1 481.7h0M311.8 482.1h0M278.7 486.5h0M236.9 490.9h0M272.9 490.3h0M308.5 493.7h0M229.8 501.4h0M245 507.8h0M197.4 510.5h0M257.2 509.9h0M193.9 513.8h0M229.5 534.1h0M218.5 540.7h0M264.5 550.6h0M268.5 555.9h0M296.9 554.8h0"/>
<path stroke="#5a2216" stroke-width="4" stroke-linecap="round" d="M239.6 462.8h0M191.9 468.6h0M231.4 469.7h0M270.5 473.3h0M297.2 473.5h0M221.3 477h0M239.1 476.9h0M286.5 479h0M185.8 482h0M284.4 482.5h0M227.7 485.4h0M238.7 487.4h0M225.1 492.2h0M276.4 497.7h0M270.5 503.7h0M311.8 503.1h0M189.9 506.4h0M262.3 506.9h0M269.2 507.7h0M205.1 509.9h0M189.8 514.2h0M211.2 513.8h0M223.5 515.9h0M298.7 515.9h0M198.5 520.3h0M298.2 528.3h0M216 537.3h0M236.2 538.3h0M269.2 537.7h0M229.2 548h0M241.1 546.8h0M189.6 555.2h0M253.5 554h0"/>
<path stroke="#70301c" stroke-width="3.2" stroke-linecap="round" d="M206.3 464.5h0M304.4 465.5h0M188.2 472.1h0M237.7 471.8h0M300.8 472h0M295.3 476.1h0M300.3 482.7h0M303.2 482.1h0M217.9 486.2h0M254 485.4h0M312.5 487.4h0M193.7 488.5h0M271.1 492.8h0M208.2 497.7h0M268 496.4h0M284.5 496.3h0M304.2 500.9h0M300.6 504.7h0M185.6 506.9h0M194.8 506.6h0M277.1 505.6h0M219 514.9h0M271.2 517.7h0M275.4 515.8h0M300.7 523.1h0M279.1 530h0M251.1 535.7h0M300.7 533.2h0M287.6 537h0M231.2 540.5h0M200.1 544h0M255.3 543.9h0M297.8 547.4h0M303.2 550.7h0M230 556.3h0M246 556.3h0M306.7 555.4h0"/>
<path stroke="#70301c" stroke-width="3.6" stroke-linecap="round" d="M224.9 462.2h0M286.2 461.7h0M250.8 464.9h0M259.2 464.6h0M302 468.5h0M195.1 473.7h0M282.5 472.8h0M211.7 477.3h0M268.6 474.8h0M199.9 486.5h0M204.9 490.6h0M253.8 491.9h0M286.5 494.5h0M287.1 503.7h0M292.5 507.2h0M280.9 518.2h0M220.1 523.3h0M202.4 528.3h0M239.5 528.8h0M271 526.1h0M217.3 530.6h0M253.1 531.2h0M250.9 540.8h0M294.6 545.7h0M258.8 549.1h0M295.2 558.1h0"/>
<path stroke="#70301c" stroke-width="4" stroke-linecap="round" d="M232.5 463.2h0M253.1 462h0M187.5 466.3h0M263.5 468.6h0M284.6 468h0M209.3 479h0M239.3 479.4h0M269.1 480.4h0M281.5 479.6h0M306.1 478.3h0M237.4 481.7h0M241.5 482.4h0M221.1 494.2h0M207 499.4h0M259 504.4h0M259 510.4h0M310.9 509.3h0M294.8 512.7h0M255.3 516.6h0M267.7 518h0M304.8 521.1h0M213.8 524.1h0M265.2 522.7h0M303 524.5h0M225.4 531.4h0M245 533.2h0M278.6 545.1h0M239.4 548.1h0M217.2 550.6h0M307.1 558.5h0"/>
<path stroke="#8e3c24" stroke-width="3.2" stroke-linecap="round" d="M268.3 463h0M291.9 462.9h0M260.9 466.4h0M266.2 465.7h0M274.7 466.4h0M301.2 466.9h0M249.7 472.7h0M184.6 474.7h0M188.3 475.6h0M227.7 474.9h0M273.5 479.1h0M276.5 480.7h0M189.1 483.1h0M220.5 482.5h0M223.7 482.2h0M270.6 482.6h0M215.2 490.7h0M219.2 490.5h0M247.6 489.3h0M264.4 488.9h0M294.9 489.3h0M194.7 493h0M203 492.4h0M258.5 494.1h0M300.3 496.2h0M302.9 495.4h0M274.8 501.2h0M197.4 502.7h0M267.1 503h0M280.4 503.4h0M273.2 513.2h0M208.2 523.3h0M248.3 523.4h0M309.8 527.4h0M245.2 530.4h0M264.2 530.5h0M211.2 533.8h0M313.9 535h0M229.7 537h0M310.2 537.9h0M269.1 545.9h0M255.1 547.5h0M293.6 547h0M266.4 554.7h0M291.9 557.8h0"/>
<path stroke="#8e3c24" stroke-width="3.6" stroke-linecap="round" d="M307 475.4h0M312.4 476.5h0M231.2 478.9h0M232.8 482.1h0M243.2 483.3h0M292.1 481.9h0M195.6 485.4h0M202.1 486.3h0M214.5 486.2h0M233.7 487.2h0M245.6 486.9h0M259.4 485h0M215.3 492.2h0M204.5 495.5h0M248.1 495.6h0M218.5 499.5h0M189.4 504.4h0M220.8 502.1h0M295.5 503.5h0M308.9 512.9h0M240.9 517.3h0M236.5 522.8h0M229.8 528.2h0M239.6 529.8h0M258.8 532.3h0M269.1 530.6h0M300.2 529.8h0M217.5 534.1h0M308.3 535.1h0M280.4 542.3h0M218.1 548.3h0M233.9 554.2h0M205.8 559.1h0"/>
<path stroke="#8e3c24" stroke-width="4" stroke-linecap="round" d="M284.8 460.9h0M302.8 462.7h0M209.3 465.6h0M296.1 468.8h0M214.3 472.1h0M230.3 473.9h0M275.2 475.6h0M280.7 476.9h0M203.7 479h0M223 478.2h0M243 486.1h0M199.6 489.5h0M243.1 490.7h0M237.4 499.8h0M229.7 503.7h0M222 507.1h0M279.8 509.2h0M199.5 518.5h0M208.9 516.6h0M190.1 519.9h0M297.9 520.8h0M260.6 523.9h0M290.5 523.6h0M252.6 526.3h0M204 529.9h0M221.1 531.2h0M237.1 533.7h0M255 533.3h0M260.6 538.8h0M202.1 541.4h0M265.9 540.3h0M312.8 540.3h0M271.7 544.6h0M210.6 548.2h0M277.9 554.1h0M193.2 558.3h0"/>
<path stroke="#984630" stroke-width="3.2" stroke-linecap="round" d="M271.1 461.3h0M279.1 464.8h0M205.5 469.4h0M208.4 467.9h0M211.4 468.2h0M241 469h0M190.3 473.2h0M207.7 475.9h0M216.2 475.1h0M190 479.2h0M218.8 479.8h0M268.5 484h0M287.4 481.9h0M210.3 484.9h0M231 486.9h0M266.1 485.8h0M185.8 488.9h0M189.9 499.3h0M255.3 499.8h0M197.4 505.5h0M255 506.3h0M215.2 509.1h0M253.3 510.5h0M294.2 510.1h0M233.9 512.5h0M187.3 519.5h0M214.8 519.7h0M227.4 520.6h0M308 520.9h0M306.1 525.4h0M256.2 531.5h0M213.6 533.9h0M242.5 535.5h0M211.3 537h0M237 544.2h0M243.2 552.8h0M258.2 555.3h0M264.5 558.5h0"/>
<path stroke="#984630" stroke-width="3.6" stroke-linecap="round" d="M201.5 466.2h0M239.5 465.3h0M253.2 465.7h0M257.8 471.9h0M261.3 471.2h0M262.9 475.7h0M272.1 475.2h0M273 485.4h0M281.7 486.1h0M285.8 485.3h0M282.6 490.7h0M267.1 493.7h0M297.9 492.8h0M201.8 500.1h0M258.5 500.4h0M207.5 506h0M229.7 506h0M258.9 517.2h0M265.3 516.8h0M210.6 519.3h0M256.7 519.7h0M193.3 525.2h0M217.8 522.7h0M232.2 525.2h0M294.9 540.3h0M306.2 540.7h0M261 544.5h0M268.8 548.1h0M212.6 559.5h0M255.1 558.7h0M259.2 558.4h0M279.4 558.7h0"/>
<path stroke="#984630" stroke-width="4" stroke-linecap="round" d="M310.2 462.2h0M198.2 464.8h0M242.2 465.7h0M265 473.2h0M192.6 477.1h0M195.6 476h0M282.8 476.2h0M278.5 483.3h0M304.7 489.7h0M306.9 490h0M293.1 493.9h0M271.8 495.8h0M242.7 499.4h0M211 508.2h0M215.5 508.1h0M267.1 508.2h0M272.7 509h0M295.3 515.9h0M307.2 517.5h0M238.9 521.2h0M192 528.8h0M305.4 527.8h0M185.3 532.1h0M211.6 531.2h0M248.4 531.9h0M302.6 530.1h0M203.5 538.8h0M243.9 537.1h0M291.9 537.8h0M300 538.3h0M226.3 539.9h0M272.7 540.1h0M312.2 547.2h0M248.8 550.6h0M186 556h0M284.3 556h0M311.4 558.5h0"/>
</g></g>
<rect x="186.75" y="464.05" width="125.3" height="94.1" fill="none" stroke="#000" stroke-width="1.7"/>
<clipPath id="cki2"><rect x="185.9" y="560.8" width="127" height="95.2"/></clipPath>
<g clip-path="url(#cki2)"><g filter="url(#soft)">
<rect x="183.9" y="558.8" width="131" height="99.2" fill="#c4bccc"/>
<path stroke="#e0ccd0" stroke-opacity="0.6" stroke-width="4.8" stroke-linecap="round" d="M207.8 570.9h0M271.2 609h0M262 601.8h0M224.6 638.2h0M256.8 646.9h0M208.4 604.5h0M279.2 652.2h0M289.8 588.7h0M308.1 592.3h0M232 588.4h0M310.6 601.2h0M193.4 566.1h0M271.9 575h0M216.6 599.9h0M291.4 608.3h0M218.2 583.9h0M215.3 643.6h0M248.7 569.6h0M303.1 651.8h0M191.6 646.4h0M308.9 624.3h0M280.7 649.1h0M186.3 648.6h0"/>
<path stroke="#e0ccd0" stroke-opacity="0.6" stroke-width="6.3" stroke-linecap="round" d="M215.9 570.6h0M205.6 567.1h0M214.1 611.9h0M287.6 579.2h0M295.8 612.9h0M293.6 609.2h0M191.8 620.4h0M253.8 605.7h0M312.6 579.4h0M211.6 621h0M231.1 631.9h0M264.1 583.4h0M242.3 573.8h0M237.9 654.8h0M269.1 626.1h0"/>
<path stroke="#e0ccd0" stroke-opacity="0.6" stroke-width="7.8" stroke-linecap="round" d="M297.7 569.1h0M238 650.6h0M192.4 649.1h0M269 636.1h0M267.5 638.4h0M309.2 652.4h0M207.1 621.3h0"/>
<path stroke="#e0ccd0" stroke-opacity="0.6" stroke-width="9.2" stroke-linecap="round" d="M302.5 637h0M303.7 639.7h0M265.5 630.5h0M246 569.3h0M301.3 615.3h0M193.7 582.6h0M274.5 646.1h0M222.6 652.8h0M191.6 576.9h0M248.2 584.5h0M201.4 611.2h0M239.4 584.5h0M311.7 599.2h0M296.9 646.5h0M228.6 623.3h0"/>
<path stroke="#b0c0e0" stroke-opacity="0.7" stroke-width="7" stroke-linecap="round" d="M245.8 610.9h0M295.7 618.7h0M247.7 652.8h0M239.6 636.8h0M296.9 577.6h0M300.7 628.4h0M276.8 606.9h0M263.8 602.9h0M202.8 568.7h0"/>
<path stroke="#b0c0e0" stroke-opacity="0.7" stroke-width="8.8" stroke-linecap="round" d="M196.7 612.5h0M285.9 590.4h0M217.1 641.5h0M271.8 618.8h0"/>
<path stroke="#b0c0e0" stroke-opacity="0.7" stroke-width="10.6" stroke-linecap="round" d="M285.3 644.4h0M297.5 580h0M190.2 617.4h0M231.9 633.9h0M248.7 593h0M225.5 612.7h0M283.3 654.6h0M283.8 595.3h0"/>
<path stroke="#b0c0e0" stroke-opacity="0.7" stroke-width="12.4" stroke-linecap="round" d="M297.2 571.8h0M227.9 645.7h0M187.2 640.5h0M200.4 619.9h0M251 602.1h0M284.5 567.2h0M210.8 589.6h0M301.8 605.3h0M224.7 643.4h0"/>
<path stroke="#9cacd4" stroke-width="2.2" stroke-linecap="round" d="M296.9 563.8h0M184.9 593.8h0M288.2 604.7h0M263 607.9h0M284.9 611.4h0M205.5 614.8h0M298.9 618.5h0M286.7 620.3h0M252.5 626.8h0M205.6 635.5h0M303.6 639.1h0M248 641h0"/>
<path stroke="#9cacd4" stroke-width="2.5" stroke-linecap="round" d="M185.7 558.9h0M261.4 576.5h0M255 587.7h0M199.5 611.9h0M223.3 617.5h0M260.2 631h0M277.4 635.5h0M199.7 638.2h0M213.1 638.6h0M248.2 636.8h0M312 637.4h0M296.9 650.6h0"/>
<path stroke="#9cacd4" stroke-width="2.8" stroke-linecap="round" d="M207.4 559.7h0M184.8 573.2h0M200.2 579.6h0M249.8 603.3h0M292.2 610.2h0M186.7 617.7h0M230.9 652.3h0"/>
<path stroke="#8a94bc" stroke-width="2.2" stroke-linecap="round" d="M186.8 564.4h0M243.3 600h0M194.2 609.4h0M207.2 620.8h0M247.6 619.9h0M234.5 641.1h0M217 651.9h0"/>
<path stroke="#8a94bc" stroke-width="2.5" stroke-linecap="round" d="M213.2 560.3h0M300.6 565.2h0M269.9 576h0M278.9 579.8h0M310.5 582.9h0M303.4 597.5h0M277.2 626.8h0M252.3 633.6h0M213.4 645.7h0M195.7 650.9h0M225.4 650.8h0"/>
<path stroke="#8a94bc" stroke-width="2.8" stroke-linecap="round" d="M203.7 564.3h0M215.4 563.9h0M219.1 573.3h0M219.7 579.1h0M211.1 599.2h0M220.4 600.2h0M279.4 601.8h0M237.4 639.2h0M239.6 640.7h0M304.9 645.3h0"/>
<path stroke="#4a4a74" stroke-width="2.3" stroke-linecap="round" d="M283.4 558.5h0M200.6 567.8h0M231.3 566.9h0M247.3 573.3h0M241.4 584.3h0M293.5 584.4h0M208 600h0M279.4 610.7h0M252.6 631.8h0M188.9 633.1h0M283.6 635.8h0M274.7 641.2h0M296.3 644.8h0M205 655.9h0"/>
<path stroke="#4a4a74" stroke-width="2.5" stroke-linecap="round" d="M204.5 566.2h0M217.7 569.2h0M260.4 589.9h0M246.3 623.7h0M274 627.8h0M282.8 649.2h0M313.7 648.2h0M304.9 650.1h0M261.9 653.8h0"/>
<path stroke="#4a4a74" stroke-width="2.8" stroke-linecap="round" d="M311.1 563.4h0M267.3 572.2h0M295 580.3h0M310.7 580.5h0M310.2 608.3h0M201.4 628.9h0"/>
<path stroke="#a4b4dc" stroke-width="2.2" stroke-linecap="round" d="M237.9 563.7h0M305 565.9h0M243.1 587h0M288 631h0M194.3 645.6h0M247.8 647.1h0"/>
<path stroke="#a4b4dc" stroke-width="2.5" stroke-linecap="round" d="M207 570.7h0M198.3 577.4h0M247.3 587h0M258.2 603.7h0M299 606.6h0M205.7 625.3h0M299.2 640.1h0"/>
<path stroke="#a4b4dc" stroke-width="2.8" stroke-linecap="round" d="M297.1 559.7h0M270 563.7h0M281 590.5h0M267.7 593.2h0M266.2 601.2h0M278.9 621.9h0M299.1 650.3h0"/>
<path stroke="#70301c" stroke-width="3.2" stroke-linecap="round" d="M281.2 561.9h0M247.4 565.4h0M276.5 570.1h0M208.8 573.8h0M240.2 572.2h0M255.6 573.3h0M268.1 579h0M218.6 583.9h0M238.3 584.6h0M288.6 584.7h0M273.6 586.1h0M231.1 589.7h0M240.8 589.5h0M265.7 591h0M208.1 592.9h0M257.4 595.9h0M291.3 597.4h0M307.6 596h0M226.5 607.9h0M207.5 610.8h0M232.6 612h0M200.5 614.1h0M245.9 614.7h0M258.2 615.1h0M278 614.3h0M193.9 617.6h0M222.6 620.5h0M266 620.6h0M282 622h0M272.5 624.4h0M300.7 623.4h0M189.8 628.6h0M226.1 632h0M291 630.7h0M235 634.5h0M233.7 637.3h0M269.4 636.8h0M281.8 642.6h0M244 644.3h0M289.8 647.9h0M189.5 655.4h0"/>
<path stroke="#70301c" stroke-width="3.6" stroke-linecap="round" d="M189.3 560.8h0M267.3 560.4h0M269.9 559.2h0M189.5 563.7h0M242.2 563.6h0M270.3 567.3h0M199.2 569.7h0M256.4 570.3h0M261.9 569.9h0M271.5 569.8h0M284.4 569.5h0M251.5 573.7h0M202.7 578h0M210.8 577h0M222.3 576.4h0M196.1 578.9h0M205.8 582.5h0M308.8 587.8h0M279.2 594.5h0M217 601.6h0M217.2 603.5h0M296.5 610.2h0M270 616.5h0M308.7 617.6h0M249.5 625.6h0M235.7 627.6h0M263.4 627.5h0M310.8 627.4h0M313.7 635.6h0M292.9 641.4h0M219.4 645h0M223.2 644.7h0M258 644.1h0M274.6 654h0"/>
<path stroke="#70301c" stroke-width="4" stroke-linecap="round" d="M242.4 559.1h0M285.6 559.9h0M232.6 563.9h0M217.3 567.2h0M261.9 567h0M224.9 573.3h0M238.2 577.8h0M244 576.3h0M264.8 577.6h0M297.4 575.6h0M216.7 580.6h0M244.1 581.5h0M261.6 580.5h0M283.4 579.9h0M190 582.4h0M225 582.3h0M303.7 582.7h0M217.3 586h0M279.5 588h0M185.5 591.4h0M192.1 593.4h0M269.4 593.1h0M267.8 596.7h0M225.2 606.9h0M239.1 608h0M265.6 606.1h0M212.5 614.2h0M226.7 614.1h0M306.7 614.4h0M288.9 620.4h0M217.5 625.1h0M289.1 627.7h0M293.5 627.8h0M300.9 627h0M265.8 630.3h0M223.1 634.8h0M258.1 635.5h0M194.1 638.1h0M256.9 636.9h0M192.7 640.6h0M301.4 641.5h0M309.7 640.4h0M207.3 648.6h0M284.5 652.5h0M308.8 650.9h0"/>
<path stroke="#5a2216" stroke-width="3.2" stroke-linecap="round" d="M257.7 564h0M207.1 566.9h0M244.8 565.2h0M259 566.6h0M290.4 574.2h0M241.4 577.2h0M314.5 580.2h0M189.2 594.8h0M204.2 593.7h0M215.6 593.3h0M236.3 594.6h0M307 594.8h0M288.6 597.7h0M192.4 601.1h0M199.4 601.6h0M225.1 600.8h0M191.3 604.5h0M197.3 604.5h0M273.7 604h0M277.1 603.1h0M290.2 606.7h0M186.4 610.4h0M271.7 611.8h0M277.4 611.5h0M274.7 613.9h0M295.4 618.6h0M236.8 621h0M263.4 620.9h0M253.5 624.6h0M295.9 625h0M203.8 627.7h0M224.5 628.9h0M213.3 629.7h0M233 631.7h0M201.8 634.2h0M308.6 635.5h0M260 639.2h0M211.8 641.2h0M301.9 648.7h0M196.8 655.4h0M254.9 654.7h0"/>
<path stroke="#5a2216" stroke-width="3.6" stroke-linecap="round" d="M314.6 560.2h0M198.6 561.8h0M271.6 562.4h0M189.2 566.3h0M187.4 568.7h0M194.3 569.2h0M226.3 569.3h0M310.8 568.7h0M307.1 577.2h0M259.3 579.7h0M210.8 583.7h0M215.4 590.4h0M217.4 591.3h0M197.3 594.8h0M248.6 595h0M253.9 593h0M193.6 595.9h0M248.7 601.8h0M254.8 599.3h0M200.7 606.6h0M281.6 608.3h0M222.2 609.6h0M219.8 613.4h0M280.9 624.1h0M219.6 634.4h0M238.2 633.7h0M259.2 640.4h0M265.5 642.2h0M291.1 645.8h0M235.2 655.2h0M291.3 655.5h0"/>
<path stroke="#5a2216" stroke-width="4" stroke-linecap="round" d="M192.2 559.5h0M228.3 560.1h0M247 560h0M295.3 559.5h0M300.8 564h0M265.6 566h0M232.9 572.9h0M242.3 573.8h0M294.5 572.4h0M190.3 577h0M292.7 576.3h0M302.9 577.8h0M213.6 583.3h0M223.2 582.9h0M251.9 583.1h0M261.8 584.9h0M264.9 582.9h0M300 583.5h0M211.6 586.5h0M258.1 591.2h0M298.8 591.3h0M225.1 595.9h0M310.6 597.8h0M243.5 606.6h0M250.8 606.8h0M255.2 606.6h0M219.1 609.4h0M256.9 610.4h0M265.9 615.3h0M313.7 615h0M239.7 620.2h0M203 623.8h0M308.7 624.5h0M249.3 632h0M284 631.3h0M243.1 634.7h0M210.9 637.5h0M205.8 640.1h0M283.8 644.1h0M306.4 643.6h0M310.4 645.1h0M286.9 649.3h0M249.8 650.2h0"/>
<path stroke="#7a321e" stroke-width="3.2" stroke-linecap="round" d="M302.2 558.5h0M263.6 570.8h0M192.1 574.5h0M217.4 576.7h0M230.6 579.9h0M269.6 581h0M203.5 583.3h0M257.8 582.7h0M200.9 586.2h0M204 588h0M223.2 588.2h0M313.7 586h0M246.2 589.2h0M292 591h0M293.8 592.6h0M202.1 597.5h0M299.7 595.9h0M204 600.8h0M270.6 599.8h0M294.1 608.1h0M312.2 610.5h0M290.7 614.7h0M283.4 616.9h0M260 621.2h0M301.9 620h0M189.4 624h0M228.5 623.4h0M199.3 631.6h0M273.4 635.5h0M244.8 642h0M250.5 641.6h0M277.3 642.5h0M230.1 643.5h0M272.8 644.1h0M216.9 649h0M259 647.7h0M209.9 651h0M258.4 651.4h0"/>
<path stroke="#7a321e" stroke-width="3.6" stroke-linecap="round" d="M306.6 560h0M220.1 565.9h0M223.3 567h0M190.3 570.5h0M250.4 570.6h0M216.2 572.7h0M286.9 574.5h0M298.9 580h0M307.3 584.9h0M276.4 589.6h0M274.6 594.7h0M283.2 594.3h0M190.4 597h0M197.3 597.4h0M262.2 598.3h0M276.9 597h0M303.2 604.9h0M275.6 608h0M264.3 609.6h0M283.3 612.9h0M197.8 616.3h0M203.6 618.5h0M241.4 617.7h0M199.6 621h0M243.1 620.7h0M221.2 625.6h0M238.9 627.8h0M255.2 634.6h0M188.2 642.2h0M220.4 640h0M313.3 641.5h0M232.9 644.6h0M207.3 654.5h0M225.2 654h0"/>
<path stroke="#7a321e" stroke-width="4" stroke-linecap="round" d="M195.3 561h0M275.6 559.1h0M196.7 566.2h0M212.8 566.9h0M287.5 565.7h0M296.7 573.9h0M183.7 579.5h0M226.7 581.2h0M305.6 579.7h0M186.6 583h0M228.4 586.7h0M251.3 586.1h0M194.2 589.4h0M234 589.2h0M308.3 591h0M258.2 600.4h0M298.4 600.4h0M195.8 603.6h0M268.2 604.3h0M189.3 607.6h0M221 606.2h0M254.1 609.8h0M262.2 610.5h0M240.2 614.4h0M233.2 617.3h0M219.9 621.8h0M186.9 624.1h0M183.9 628.5h0M193.5 634h0M209.3 634.6h0M271.2 633.5h0M201.3 642.4h0M236.4 647.8h0M277.9 650.9h0M271.5 655.8h0"/>
<path stroke="#984630" stroke-width="3.2" stroke-linecap="round" d="M229.8 561.9h0M236.4 567.4h0M235.6 574.2h0M277.8 573.2h0M230.7 576.2h0M257.5 576.8h0M288.9 576h0M209.3 580.8h0M275.5 581.4h0M270 588h0M221.7 589.2h0M224.8 592.9h0M239.4 594.6h0M285.2 594.6h0M219.2 598h0M220.7 597.9h0M251.9 597.1h0M295.5 598.4h0M286.5 601.6h0M224.7 603.3h0M245.7 603.3h0M300.7 604.9h0M306.9 606.1h0M208.9 609.4h0M213.2 610.9h0M195.4 613.1h0M293 615.2h0M289.2 617.6h0M216.6 621.4h0M197.6 627.2h0M272.6 631.5h0M296.7 633.8h0M221 638.8h0M224.8 638.9h0M228.4 637.2h0M209.6 640.1h0M289.6 640.6h0M185.8 644.1h0M196.2 647.7h0M205.5 649h0M244.3 647.1h0M253.7 647.9h0M202.8 652.4h0M246.3 651.5h0M213.4 654.8h0M216.1 656h0M230.4 655.5h0"/>
<path stroke="#984630" stroke-width="3.6" stroke-linecap="round" d="M223.1 562.6h0M184 566.9h0M215.5 570.9h0M188.2 572h0M262.6 572.9h0M234.9 583.6h0M269.2 583.5h0M294.3 587.3h0M271.7 591.2h0M289.9 594.3h0M301.9 594.8h0M302.8 600.8h0M254.1 605h0M280.8 603h0M296.9 604.4h0M205.7 607.8h0M248.3 608.4h0M287.1 611.1h0M301.1 610.1h0M308.8 611h0M277.5 616.6h0M198.6 625.2h0M242.4 623.5h0M257.2 623.6h0M246.8 627h0M270.9 626.6h0M207.3 632.2h0M245.2 630.4h0M300.9 630.2h0M306.5 636.6h0M279.2 645.4h0M221 648.6h0M223.2 648.7h0M250.5 647h0M233 650.3h0M258.7 655.6h0"/>
<path stroke="#984630" stroke-width="4" stroke-linecap="round" d="M201.4 558.7h0M230.4 559.8h0M256.3 558.7h0M258.4 560.9h0M291.3 559.7h0M268.3 569.8h0M292.5 569.3h0M299.9 569.7h0M195.7 574.6h0M301.1 581.4h0M201.5 591.5h0M210.4 590.6h0M231.5 592.5h0M243.8 593.7h0M244.6 596.2h0M250.2 598h0M188 599.7h0M234.5 600.4h0M293.6 600.1h0M223 603.3h0M245.6 616.9h0M205.5 621.9h0M287.8 624.4h0M211.6 629.7h0M220.7 631h0M197.7 633.4h0M286.1 634.4h0M216.8 638.2h0M272.2 637.1h0M196.3 640.1h0M262 641.5h0M271.6 640.2h0M248.9 646h0M269.7 648.6h0M240.9 650.8h0M312.6 651.9h0M251.3 655.7h0M298 655.3h0"/>
<path stroke="#803420" stroke-width="3.2" stroke-linecap="round" d="M250.6 559.9h0M264.5 564.5h0M303.8 562.8h0M279.1 569.1h0M200.6 573.8h0M289.9 580.8h0M197.7 584.4h0M191.7 586h0M230.4 586h0M284.8 590h0M312.9 589.8h0M258.4 592.5h0M309.7 592.7h0M205.8 595.9h0M252.4 601.4h0M308.6 600.6h0M313.8 599.5h0M241.1 604.5h0M192.9 607.4h0M234.9 607.1h0M287.2 608.5h0M236.6 613.3h0M262 617.2h0M250.2 621.3h0M226.8 624.9h0M233.3 625.1h0M220.7 628.8h0M191.6 631.2h0M228.5 635.6h0M242.1 638.9h0M289.2 645.4h0M194 647.5h0M262.9 647.4h0M279.8 650.5h0M293.1 651.4h0"/>
<path stroke="#803420" stroke-width="3.6" stroke-linecap="round" d="M239.5 560.2h0M276.5 562.7h0M229.1 567.6h0M310.9 566.4h0M288.8 571.1h0M249.9 582.3h0M296.3 583.1h0M263.3 586.3h0M305.8 587.2h0M205.3 591.4h0M236.4 589.2h0M218.8 593.1h0M261.6 594.1h0M209.2 597.6h0M233.5 597.6h0M240.7 597h0M196.4 601.7h0M213.3 603.2h0M307.9 604.9h0M258.5 606.4h0M270 608.7h0M301.4 606.2h0M240.3 612h0M245.7 610.8h0M310.5 614.3h0M189.8 616.6h0M229.1 618.1h0M185.7 621.2h0M197.3 620.8h0M211.3 619.8h0M298.9 622.1h0M211.1 623.2h0M230.8 628.5h0M185.5 634.9h0M190.3 637.8h0M286.5 641.7h0M269.6 643.5h0M232.3 647.3h0M266.9 647.7h0M222.6 652.3h0M184.4 654.8h0"/>
<path stroke="#803420" stroke-width="4" stroke-linecap="round" d="M204.6 561h0M248.7 563.4h0M240.7 567.5h0M251.6 566.6h0M229.4 569.8h0M294.8 570.7h0M308.3 569.8h0M270.8 572.9h0M300.5 573.1h0M281 577.9h0M203.4 579.9h0M251.2 581h0M255.2 580.4h0M275.6 583.8h0M234.8 587.2h0M291.1 585.7h0M227 590.7h0M297.7 592.7h0M229.6 596.1h0M281.7 601.4h0M312.4 602.6h0M197 606.7h0M211.1 607.6h0M190.9 611.9h0M236.7 611.9h0M232.3 613.9h0M298.9 615h0M206.1 618.7h0M303.6 616.2h0M228.7 620.6h0M232.6 619.5h0M255.6 620.9h0M236.9 624.3h0M302.5 624.2h0M212.8 626.4h0M255.4 627.5h0M258.4 628.8h0M281 631.7h0M296.3 630.5h0M185.8 638h0M243.3 654.7h0M248.6 655h0"/>
<path stroke="#662818" stroke-width="3.2" stroke-linecap="round" d="M211.2 563.6h0M218.6 563h0M203.1 568.9h0M246.6 569.9h0M204.5 572.2h0M186 575.5h0M225.1 576.4h0M253.8 575.6h0M298.7 577.8h0M190 580.3h0M285.8 581.2h0M273.1 584.4h0M207.2 587.8h0M190.8 589.8h0M188.2 598.2h0M285.4 597.6h0M239.3 599.4h0M284.3 604.4h0M215.1 608.5h0M201.9 609.8h0M189.1 613.1h0M192.5 612.7h0M270 615h0M286.4 614.2h0M193.6 619.8h0M271.5 620.3h0M261.6 625.3h0M293.2 624.4h0M215.9 627.8h0M285.8 626.7h0M203.4 631.5h0M219.1 631.7h0M261.7 634.2h0M265.6 633.4h0M205.8 639.2h0M284.7 639h0M187.7 651.2h0M279.6 654.8h0"/>
<path stroke="#662818" stroke-width="3.6" stroke-linecap="round" d="M215.6 559.1h0M211.3 570.6h0M205.8 576.4h0M236.7 581.5h0M195.3 582.4h0M230.5 584.7h0M239 586.7h0M267 585.8h0M298.1 587.5h0M301 586.2h0M250.5 591.1h0M287.2 589.9h0M201.1 594h0M228.1 594.1h0M312.4 592.7h0M231.6 600.1h0M206.3 603.4h0M261.5 603.2h0M231.2 606h0M216 613h0M254 614.8h0M213.6 618.1h0M312.7 621.4h0M265.9 624.2h0M207.5 627.2h0M244.5 628.2h0M304.9 627.4h0M238.2 632.4h0M242.7 632.3h0M276.6 632.1h0M307.5 630.3h0M310.8 630.5h0M231.3 635.4h0M252.2 636.7h0M280.3 636.6h0M229 639.9h0M199.3 647.5h0M227.5 648.6h0M214.3 651.5h0M201.7 655.7h0"/>
<path stroke="#662818" stroke-width="4" stroke-linecap="round" d="M223.7 560h0M283.6 567.1h0M312.5 565.4h0M254.4 571.3h0M304.4 568.8h0M227.3 572.1h0M312.4 572.9h0M213.6 577.2h0M280 598h0M228.6 601.6h0M208.9 603.1h0M265.8 605.2h0M229.7 609.4h0M184.3 614.9h0M225 613.3h0M302.9 613.2h0M308.9 620.6h0M193.1 627.4h0M295.2 635.4h0M301.3 634.4h0M276.5 638.6h0M184.7 642.5h0M198.6 643.6h0M254.5 645.8h0M264.7 645.4h0M188.4 646.9h0M278.2 648.4h0M192.1 655.3h0M301.1 654.9h0"/>
<path stroke="#8e3c24" stroke-width="3.2" stroke-linecap="round" d="M236.7 560.1h0M262.7 558.8h0M227 562.9h0M244.4 562.5h0M287.9 563.3h0M291.3 563.3h0M308.4 564.3h0M289.7 565.8h0M295.1 565.7h0M237.5 570.6h0M248.1 576.8h0M276.8 576.3h0M283.9 578.1h0M223 579.5h0M185.1 586.2h0M283.1 587.9h0M285.4 588.2h0M252.9 590.5h0M269.2 590.8h0M291.4 599.8h0M305.2 600.7h0M201.9 604h0M228.8 603.7h0M237.6 603.7h0M225.2 610.2h0M255.8 618.3h0M263.6 616.6h0M273.4 621.7h0M268.2 625.5h0M283.4 624.2h0M226.9 627.6h0M228.5 629.9h0M268.8 630.1h0M264.7 639h0M232.4 642.6h0M260.6 645.1h0M185.8 647h0M207.2 652h0M237.7 651.9h0"/>
<path stroke="#8e3c24" stroke-width="3.6" stroke-linecap="round" d="M191.5 565.7h0M233.6 571.2h0M212.9 572.5h0M273.6 572.1h0M247.9 579.3h0M196.6 586.8h0M264.2 598h0M273.7 600.5h0M291.2 604.2h0M184.1 606.6h0M303.2 610h0M251.7 613.8h0M210.2 617.4h0M237.2 618.1h0M187.7 620.7h0M283.7 628.3h0M312.4 628h0M256.2 629.8h0M300.4 636.6h0M215.8 641h0M276.2 645.9h0M298.8 645.2h0M213 647.2h0M191.3 652.4h0M268.2 651.4h0M219.9 654.9h0M238.4 655.6h0M285.1 655.5h0"/>
<path stroke="#8e3c24" stroke-width="4" stroke-linecap="round" d="M221.1 559.5h0M278.2 558.9h0M206 564.3h0M278.7 565.3h0M298.4 565.8h0M258.7 572.5h0M193.6 577h0M313 577.2h0M239.9 580.9h0M245.1 583.2h0M280.5 584.6h0M188.1 588h0M221.2 587.6h0M260.2 586.4h0M197.3 590.3h0M296.9 591.5h0M212.4 594.5h0M249.9 594.1h0M214.7 596.4h0M261.8 599.6h0M233.6 603.2h0M313.4 606h0M269.1 611.4h0M225 618.5h0M252.2 616.8h0M280.8 617.3h0M292.8 620.6h0M306.3 621.3h0M310.5 623.8h0M194.6 631.8h0M304.4 631.2h0M216.3 633.9h0M306.2 634.4h0M292.1 637.8h0M223 640.4h0M210.7 643.7h0M225.8 644.1h0M199.8 651.9h0M260.2 650.3h0M289.2 652.4h0M228.6 654.8h0M267.5 653.9h0M283.4 655.6h0"/>
</g></g>
<rect x="186.75" y="561.65" width="125.3" height="93.5" fill="none" stroke="#000" stroke-width="1.7"/>
</svg>
</body></html>
